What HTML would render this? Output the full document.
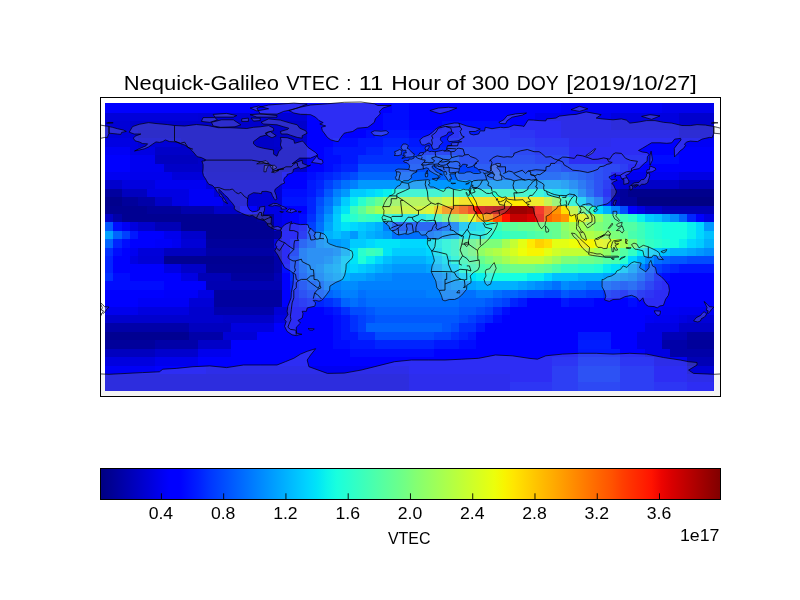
<!DOCTYPE html>
<html><head><meta charset="utf-8"><style>
html,body{margin:0;padding:0;background:#fff;}
svg{display:block;will-change:transform;}
text{font-family:"Liberation Sans",sans-serif;fill:#000;}

</style></head><body>
<svg width="800" height="600" viewBox="0 0 800 600">
<defs>
<clipPath id="mc"><rect x="100.5" y="97.5" width="620" height="299"/></clipPath>
<linearGradient id="jet" x1="0" x2="1" y1="0" y2="0"><stop offset="0.0000" stop-color="#000080"/><stop offset="0.0159" stop-color="#000092"/><stop offset="0.0317" stop-color="#0000a4"/><stop offset="0.0476" stop-color="#0000b6"/><stop offset="0.0635" stop-color="#0000c8"/><stop offset="0.0794" stop-color="#0000da"/><stop offset="0.0952" stop-color="#0000ed"/><stop offset="0.1111" stop-color="#0000ff"/><stop offset="0.1270" stop-color="#0000ff"/><stop offset="0.1429" stop-color="#0010ff"/><stop offset="0.1587" stop-color="#0020ff"/><stop offset="0.1746" stop-color="#0034ff"/><stop offset="0.1905" stop-color="#0044ff"/><stop offset="0.2063" stop-color="#0054ff"/><stop offset="0.2222" stop-color="#0064ff"/><stop offset="0.2381" stop-color="#0074ff"/><stop offset="0.2540" stop-color="#0084ff"/><stop offset="0.2698" stop-color="#0094ff"/><stop offset="0.2857" stop-color="#00a4ff"/><stop offset="0.3016" stop-color="#00b4ff"/><stop offset="0.3175" stop-color="#00c4ff"/><stop offset="0.3333" stop-color="#00d4ff"/><stop offset="0.3492" stop-color="#00e4f8"/><stop offset="0.3651" stop-color="#0cf4eb"/><stop offset="0.3810" stop-color="#19ffde"/><stop offset="0.3968" stop-color="#26ffd1"/><stop offset="0.4127" stop-color="#33ffc4"/><stop offset="0.4286" stop-color="#40ffb7"/><stop offset="0.4444" stop-color="#4dffaa"/><stop offset="0.4603" stop-color="#5aff9d"/><stop offset="0.4762" stop-color="#66ff90"/><stop offset="0.4921" stop-color="#73ff83"/><stop offset="0.5079" stop-color="#83ff73"/><stop offset="0.5238" stop-color="#90ff66"/><stop offset="0.5397" stop-color="#9dff5a"/><stop offset="0.5556" stop-color="#aaff4d"/><stop offset="0.5714" stop-color="#b7ff40"/><stop offset="0.5873" stop-color="#c4ff33"/><stop offset="0.6032" stop-color="#d1ff26"/><stop offset="0.6190" stop-color="#deff19"/><stop offset="0.6349" stop-color="#ebff0c"/><stop offset="0.6508" stop-color="#f8f500"/><stop offset="0.6667" stop-color="#ffe600"/><stop offset="0.6825" stop-color="#ffd700"/><stop offset="0.6984" stop-color="#ffc800"/><stop offset="0.7143" stop-color="#ffb900"/><stop offset="0.7302" stop-color="#ffab00"/><stop offset="0.7460" stop-color="#ff9c00"/><stop offset="0.7619" stop-color="#ff8d00"/><stop offset="0.7778" stop-color="#ff7e00"/><stop offset="0.7937" stop-color="#ff6f00"/><stop offset="0.8095" stop-color="#ff6000"/><stop offset="0.8254" stop-color="#ff5200"/><stop offset="0.8413" stop-color="#ff3f00"/><stop offset="0.8571" stop-color="#ff3000"/><stop offset="0.8730" stop-color="#ff2200"/><stop offset="0.8889" stop-color="#ff1300"/><stop offset="0.9048" stop-color="#ed0400"/><stop offset="0.9206" stop-color="#da0000"/><stop offset="0.9365" stop-color="#c80000"/><stop offset="0.9524" stop-color="#b60000"/><stop offset="0.9683" stop-color="#a40000"/><stop offset="0.9841" stop-color="#920000"/><stop offset="1.0000" stop-color="#800000"/></linearGradient>
</defs>
<g font-size="20.6"><text x="123.70" y="90" textLength="155.35" lengthAdjust="spacingAndGlyphs">Nequick-Galileo</text><text x="286.20" y="90" textLength="53.35" lengthAdjust="spacingAndGlyphs">VTEC</text><text x="346.20" y="90" textLength="5.10" lengthAdjust="spacingAndGlyphs">:</text><text x="358.70" y="90" textLength="24.60" lengthAdjust="spacingAndGlyphs">11</text><text x="391.20" y="90" textLength="49.60" lengthAdjust="spacingAndGlyphs">Hour</text><text x="446.20" y="90" textLength="19.60" lengthAdjust="spacingAndGlyphs">of</text><text x="471.70" y="90" textLength="37.60" lengthAdjust="spacingAndGlyphs">300</text><text x="516.70" y="90" textLength="42.10" lengthAdjust="spacingAndGlyphs">DOY</text><text x="566.20" y="90" textLength="130.60" lengthAdjust="spacingAndGlyphs">[2019/10/27]</text></g>
<g shape-rendering="crispEdges">
<path fill="#0000ff" d="M105 103h8v10h-8zM113 103h9v10h-9zM122 103h8v10h-8zM130 103h8v10h-8zM138 103h9v10h-9zM147 103h8v10h-8zM155 103h9v10h-9zM164 103h8v10h-8zM172 103h9v10h-9zM181 103h8v10h-8zM189 103h9v10h-9zM198 103h8v10h-8zM206 103h8v10h-8zM214 103h9v10h-9zM223 103h8v10h-8zM231 103h9v10h-9zM240 103h8v10h-8zM248 103h9v10h-9zM257 103h8v10h-8zM265 103h9v10h-9zM274 103h8v10h-8zM282 103h8v10h-8zM290 103h9v10h-9zM299 103h8v10h-8zM307 103h9v10h-9zM316 103h8v10h-8zM324 103h9v10h-9zM333 103h8v10h-8zM341 103h9v10h-9zM350 103h8v10h-8zM358 103h8v10h-8zM366 103h9v10h-9zM375 103h8v10h-8zM383 103h9v10h-9zM409 103h8v10h-8zM417 103h9v10h-9zM426 103h8v10h-8zM434 103h8v10h-8zM442 103h9v10h-9zM451 103h8v10h-8zM459 103h9v10h-9zM468 103h8v10h-8zM476 103h9v10h-9zM485 103h8v10h-8zM493 103h9v10h-9zM502 103h8v10h-8zM510 103h8v10h-8zM518 103h9v10h-9zM527 103h8v10h-8zM535 103h9v10h-9zM544 103h8v10h-8zM552 103h9v10h-9zM307 113h9v8h-9zM316 113h8v8h-8zM324 113h9v8h-9zM333 113h8v8h-8zM341 113h9v8h-9zM350 113h8v8h-8zM358 113h8v8h-8zM366 113h9v8h-9zM375 113h8v8h-8zM409 113h8v8h-8zM417 113h9v8h-9zM426 113h8v8h-8zM434 113h8v8h-8zM442 113h9v8h-9zM451 113h8v8h-8zM459 113h9v8h-9zM468 113h8v8h-8zM476 113h9v8h-9zM485 113h8v8h-8zM493 113h9v8h-9zM502 113h8v8h-8zM510 113h8v8h-8zM518 113h9v8h-9zM527 113h8v8h-8zM307 121h9v9h-9zM316 121h8v9h-8zM324 121h9v9h-9zM333 121h8v9h-8zM341 121h9v9h-9zM350 121h8v9h-8zM358 121h8v9h-8zM366 121h9v9h-9zM375 121h8v9h-8zM409 121h8v9h-8zM417 121h9v9h-9zM426 121h8v9h-8zM434 121h8v9h-8zM510 121h8v9h-8zM518 121h9v9h-9zM527 121h8v9h-8zM535 121h9v9h-9zM544 121h8v9h-8zM552 121h9v9h-9zM307 130h9v8h-9zM316 130h8v8h-8zM324 130h9v8h-9zM333 130h8v8h-8zM341 130h9v8h-9zM350 130h8v8h-8zM358 130h8v8h-8zM535 130h9v8h-9zM544 130h8v8h-8zM552 130h9v8h-9zM307 138h9v9h-9zM316 138h8v9h-8zM324 138h9v9h-9zM611 138h9v9h-9zM620 138h8v9h-8zM628 138h9v9h-9zM637 138h8v9h-8zM645 138h9v9h-9zM654 138h8v9h-8zM662 138h8v9h-8zM670 138h9v9h-9zM307 147h9v8h-9zM316 147h8v8h-8zM569 147h9v8h-9zM578 147h8v8h-8zM586 147h8v8h-8zM594 147h9v8h-9zM603 147h8v8h-8zM611 147h9v8h-9zM620 147h8v8h-8zM628 147h9v8h-9zM637 147h8v8h-8zM645 147h9v8h-9zM654 147h8v8h-8zM662 147h8v8h-8zM670 147h9v8h-9zM679 147h8v8h-8zM687 147h9v8h-9zM696 147h8v8h-8zM704 147h10v8h-10zM105 155h8v9h-8zM113 155h9v9h-9zM122 155h8v9h-8zM307 155h9v9h-9zM316 155h8v9h-8zM569 155h9v9h-9zM578 155h8v9h-8zM586 155h8v9h-8zM594 155h9v9h-9zM603 155h8v9h-8zM679 155h8v9h-8zM687 155h9v9h-9zM696 155h8v9h-8zM704 155h10v9h-10zM105 164h8v8h-8zM113 164h9v8h-9zM122 164h8v8h-8zM307 164h9v8h-9zM316 164h8v8h-8zM628 164h9v8h-9zM637 164h8v8h-8zM645 164h9v8h-9zM654 164h8v8h-8zM662 164h8v8h-8zM670 164h9v8h-9zM679 164h8v8h-8zM687 164h9v8h-9zM696 164h8v8h-8zM704 164h10v8h-10zM282 172h8v8h-8zM290 172h9v8h-9zM299 172h8v8h-8zM611 172h9v8h-9zM620 172h8v8h-8zM282 180h8v9h-8zM290 180h9v9h-9zM299 180h8v9h-8zM240 206h8v8h-8zM248 206h9v8h-9zM290 206h9v8h-9zM299 206h8v8h-8zM628 206h9v8h-9zM290 214h9v8h-9zM696 214h8v8h-8zM290 222h9v9h-9zM138 231h9v8h-9zM147 231h8v8h-8zM155 231h9v8h-9zM282 231h8v8h-8zM290 231h9v8h-9zM130 239h8v9h-8zM138 239h9v9h-9zM147 239h8v9h-8zM282 239h8v9h-8zM122 248h8v8h-8zM282 248h8v8h-8zM113 256h9v8h-9zM122 256h8v8h-8zM282 256h8v8h-8zM113 264h9v9h-9zM122 264h8v9h-8zM130 264h8v9h-8zM138 264h9v9h-9zM147 264h8v9h-8zM155 264h9v9h-9zM130 273h8v8h-8zM138 273h9v8h-9zM147 273h8v8h-8zM155 273h9v8h-9zM164 273h8v8h-8zM172 273h9v8h-9zM282 273h8v8h-8zM670 273h9v8h-9zM679 273h8v8h-8zM687 273h9v8h-9zM696 273h8v8h-8zM704 273h10v8h-10zM164 281h8v9h-8zM172 281h9v9h-9zM181 281h8v9h-8zM189 281h9v9h-9zM198 281h8v9h-8zM282 281h8v9h-8zM662 281h8v9h-8zM670 281h9v9h-9zM679 281h8v9h-8zM687 281h9v9h-9zM696 281h8v9h-8zM704 281h10v9h-10zM105 290h8v8h-8zM113 290h9v8h-9zM122 290h8v8h-8zM130 290h8v8h-8zM138 290h9v8h-9zM147 290h8v8h-8zM155 290h9v8h-9zM282 290h8v8h-8zM654 290h8v8h-8zM662 290h8v8h-8zM670 290h9v8h-9zM679 290h8v8h-8zM687 290h9v8h-9zM696 290h8v8h-8zM704 290h10v8h-10zM105 298h8v9h-8zM113 298h9v9h-9zM122 298h8v9h-8zM130 298h8v9h-8zM282 298h8v9h-8zM527 298h8v9h-8zM535 298h9v9h-9zM544 298h8v9h-8zM552 298h9v9h-9zM594 298h9v9h-9zM603 298h8v9h-8zM611 298h9v9h-9zM620 298h8v9h-8zM637 298h8v9h-8zM645 298h9v9h-9zM654 298h8v9h-8zM662 298h8v9h-8zM670 298h9v9h-9zM679 298h8v9h-8zM687 298h9v9h-9zM696 298h8v9h-8zM704 298h10v9h-10zM290 307h9v8h-9zM299 307h8v8h-8zM307 307h9v8h-9zM316 307h8v8h-8zM510 307h8v8h-8zM518 307h9v8h-9zM527 307h8v8h-8zM535 307h9v8h-9zM544 307h8v8h-8zM552 307h9v8h-9zM561 307h8v8h-8zM569 307h9v8h-9zM578 307h8v8h-8zM586 307h8v8h-8zM594 307h9v8h-9zM603 307h8v8h-8zM611 307h9v8h-9zM620 307h8v8h-8zM628 307h9v8h-9zM637 307h8v8h-8zM645 307h9v8h-9zM654 307h8v8h-8zM290 315h9v8h-9zM299 315h8v8h-8zM307 315h9v8h-9zM316 315h8v8h-8zM324 315h9v8h-9zM502 315h8v8h-8zM510 315h8v8h-8zM518 315h9v8h-9zM527 315h8v8h-8zM535 315h9v8h-9zM544 315h8v8h-8zM552 315h9v8h-9zM561 315h8v8h-8zM569 315h9v8h-9zM578 315h8v8h-8zM586 315h8v8h-8zM594 315h9v8h-9zM603 315h8v8h-8zM611 315h9v8h-9zM620 315h8v8h-8zM628 315h9v8h-9zM637 315h8v8h-8zM274 323h8v9h-8zM282 323h8v9h-8zM290 323h9v9h-9zM299 323h8v9h-8zM307 323h9v9h-9zM316 323h8v9h-8zM324 323h9v9h-9zM485 323h8v9h-8zM493 323h9v9h-9zM502 323h8v9h-8zM510 323h8v9h-8zM518 323h9v9h-9zM527 323h8v9h-8zM535 323h9v9h-9zM544 323h8v9h-8zM552 323h9v9h-9zM561 323h8v9h-8zM569 323h9v9h-9zM578 323h8v9h-8zM586 323h8v9h-8zM594 323h9v9h-9zM603 323h8v9h-8zM611 323h9v9h-9zM620 323h8v9h-8zM628 323h9v9h-9zM637 323h8v9h-8zM257 332h8v8h-8zM265 332h9v8h-9zM274 332h8v8h-8zM282 332h8v8h-8zM290 332h9v8h-9zM299 332h8v8h-8zM307 332h9v8h-9zM316 332h8v8h-8zM324 332h9v8h-9zM476 332h9v8h-9zM485 332h8v8h-8zM493 332h9v8h-9zM502 332h8v8h-8zM510 332h8v8h-8zM518 332h9v8h-9zM527 332h8v8h-8zM535 332h9v8h-9zM544 332h8v8h-8zM552 332h9v8h-9zM561 332h8v8h-8zM569 332h9v8h-9zM611 332h9v8h-9zM620 332h8v8h-8zM628 332h9v8h-9zM231 340h9v9h-9zM240 340h8v9h-8zM248 340h9v9h-9zM257 340h8v9h-8zM265 340h9v9h-9zM274 340h8v9h-8zM282 340h8v9h-8zM290 340h9v9h-9zM299 340h8v9h-8zM307 340h9v9h-9zM316 340h8v9h-8zM324 340h9v9h-9zM476 340h9v9h-9zM485 340h8v9h-8zM493 340h9v9h-9zM502 340h8v9h-8zM510 340h8v9h-8zM518 340h9v9h-9zM527 340h8v9h-8zM535 340h9v9h-9zM544 340h8v9h-8zM552 340h9v9h-9zM561 340h8v9h-8zM569 340h9v9h-9zM611 340h9v9h-9zM620 340h8v9h-8zM628 340h9v9h-9zM231 349h9v8h-9zM240 349h8v8h-8zM248 349h9v8h-9zM257 349h8v8h-8zM265 349h9v8h-9zM274 349h8v8h-8zM282 349h8v8h-8zM290 349h9v8h-9zM299 349h8v8h-8zM307 349h9v8h-9zM316 349h8v8h-8zM324 349h9v8h-9zM333 349h8v8h-8zM341 349h9v8h-9zM434 349h8v8h-8zM442 349h9v8h-9zM451 349h8v8h-8zM459 349h9v8h-9zM468 349h8v8h-8zM476 349h9v8h-9zM485 349h8v8h-8zM493 349h9v8h-9zM502 349h8v8h-8zM510 349h8v8h-8zM518 349h9v8h-9zM527 349h8v8h-8zM535 349h9v8h-9zM544 349h8v8h-8zM552 349h9v8h-9zM561 349h8v8h-8zM569 349h9v8h-9zM620 349h8v8h-8zM628 349h9v8h-9zM637 349h8v8h-8zM198 357h8v9h-8zM206 357h8v9h-8zM214 357h9v9h-9zM223 357h8v9h-8zM231 357h9v9h-9zM240 357h8v9h-8zM248 357h9v9h-9zM257 357h8v9h-8zM265 357h9v9h-9zM274 357h8v9h-8zM282 357h8v9h-8zM290 357h9v9h-9zM299 357h8v9h-8zM307 357h9v9h-9zM316 357h8v9h-8zM324 357h9v9h-9zM333 357h8v9h-8zM341 357h9v9h-9zM350 357h8v9h-8zM358 357h8v9h-8zM366 357h9v9h-9zM375 357h8v9h-8zM383 357h9v9h-9zM392 357h8v9h-8zM400 357h9v9h-9zM409 357h8v9h-8zM417 357h9v9h-9zM426 357h8v9h-8zM434 357h8v9h-8zM442 357h9v9h-9zM451 357h8v9h-8zM459 357h9v9h-9zM468 357h8v9h-8zM476 357h9v9h-9zM485 357h8v9h-8zM493 357h9v9h-9zM502 357h8v9h-8zM510 357h8v9h-8zM518 357h9v9h-9zM527 357h8v9h-8zM535 357h9v9h-9zM544 357h8v9h-8zM155 366h9v8h-9zM164 366h8v8h-8zM172 366h9v8h-9zM181 366h8v8h-8zM189 366h9v8h-9zM198 366h8v8h-8zM409 366h8v8h-8zM417 366h9v8h-9zM426 366h8v8h-8zM434 366h8v8h-8zM442 366h9v8h-9zM451 366h8v8h-8zM459 366h9v8h-9zM468 366h8v8h-8zM476 366h9v8h-9zM485 366h8v8h-8zM493 366h9v8h-9zM502 366h8v8h-8zM510 366h8v8h-8zM518 366h9v8h-9zM527 366h8v8h-8zM535 366h9v8h-9zM544 366h8v8h-8zM654 366h8v8h-8zM662 366h8v8h-8zM670 366h9v8h-9zM679 366h8v8h-8zM510 374h8v8h-8zM518 374h9v8h-9zM527 374h8v8h-8zM535 374h9v8h-9zM544 374h8v8h-8zM654 374h8v8h-8zM662 374h8v8h-8zM670 374h9v8h-9zM679 374h8v8h-8zM687 382h9v9h-9zM696 382h8v9h-8zM704 382h10v9h-10z"/>
<path fill="#000cff" d="M392 103h8v10h-8zM400 103h9v10h-9zM383 113h9v8h-9zM392 113h8v8h-8zM400 113h9v8h-9zM383 121h9v9h-9zM392 121h8v9h-8zM400 121h9v9h-9zM442 121h9v9h-9zM451 121h8v9h-8zM459 121h9v9h-9zM468 121h8v9h-8zM476 121h9v9h-9zM485 121h8v9h-8zM493 121h9v9h-9zM502 121h8v9h-8zM366 130h9v8h-9zM409 130h8v8h-8zM417 130h9v8h-9zM426 130h8v8h-8zM434 130h8v8h-8zM442 130h9v8h-9zM451 130h8v8h-8zM510 130h8v8h-8zM518 130h9v8h-9zM527 130h8v8h-8zM333 138h8v9h-8zM341 138h9v9h-9zM350 138h8v9h-8zM535 138h9v9h-9zM544 138h8v9h-8zM552 138h9v9h-9zM561 138h8v9h-8zM324 147h9v8h-9zM324 155h9v9h-9zM333 155h8v9h-8zM611 155h9v9h-9zM620 155h8v9h-8zM628 155h9v9h-9zM637 155h8v9h-8zM645 155h9v9h-9zM654 155h8v9h-8zM662 155h8v9h-8zM670 155h9v9h-9zM324 164h9v8h-9zM307 172h9v8h-9zM282 189h8v8h-8zM290 189h9v8h-9zM299 189h8v8h-8zM603 189h8v8h-8zM299 214h8v8h-8zM113 222h9v9h-9zM299 222h8v9h-8zM122 239h8v9h-8zM113 248h9v8h-9zM282 264h8v9h-8zM113 273h9v8h-9zM122 273h8v8h-8zM662 273h8v8h-8zM105 281h8v9h-8zM113 281h9v9h-9zM122 281h8v9h-8zM130 281h8v9h-8zM138 281h9v9h-9zM147 281h8v9h-8zM155 281h9v9h-9zM654 281h8v9h-8zM645 290h9v8h-9zM290 298h9v9h-9zM569 298h9v9h-9zM578 298h8v9h-8zM586 298h8v9h-8zM628 298h9v9h-9zM324 307h9v8h-9zM502 307h8v8h-8zM333 315h8v8h-8zM493 315h9v8h-9zM333 323h8v9h-8zM333 332h8v8h-8zM333 340h8v9h-8zM341 340h9v9h-9zM459 340h9v9h-9zM468 340h8v9h-8zM350 349h8v8h-8zM358 349h8v8h-8zM366 349h9v8h-9zM375 349h8v8h-8zM383 349h9v8h-9zM392 349h8v8h-8zM400 349h9v8h-9zM409 349h8v8h-8zM417 349h9v8h-9zM426 349h8v8h-8zM552 357h9v9h-9zM561 357h8v9h-8zM569 357h9v9h-9zM620 357h8v9h-8zM628 357h9v9h-9zM637 357h8v9h-8zM645 357h9v9h-9zM510 382h8v9h-8zM518 382h9v9h-9zM527 382h8v9h-8zM535 382h9v9h-9zM544 382h8v9h-8zM654 382h8v9h-8zM662 382h8v9h-8zM670 382h9v9h-9zM679 382h8v9h-8z"/>
<path fill="#0000f6" d="M561 103h8v10h-8zM569 103h9v10h-9zM578 103h8v10h-8zM586 103h8v10h-8zM594 103h9v10h-9zM603 103h8v10h-8zM611 103h9v10h-9zM620 103h8v10h-8zM628 103h9v10h-9zM637 103h8v10h-8zM645 103h9v10h-9zM654 103h8v10h-8zM569 138h9v9h-9zM578 138h8v9h-8zM586 138h8v9h-8zM594 138h9v9h-9zM603 138h8v9h-8zM679 138h8v9h-8zM687 138h9v9h-9zM696 138h8v9h-8zM704 138h10v9h-10zM105 147h8v8h-8zM113 147h9v8h-9zM122 147h8v8h-8zM189 189h9v8h-9zM198 189h8v8h-8zM206 189h8v8h-8zM189 197h9v9h-9zM198 197h8v9h-8zM206 197h8v9h-8zM214 197h9v9h-9zM122 222h8v9h-8zM138 298h9v9h-9zM147 298h8v9h-8zM155 298h9v9h-9zM164 298h8v9h-8zM172 298h9v9h-9zM181 298h8v9h-8zM662 307h8v8h-8zM670 307h9v8h-9zM645 315h9v8h-9zM105 366h8v8h-8zM113 366h9v8h-9zM122 366h8v8h-8zM130 366h8v8h-8zM138 366h9v8h-9zM147 366h8v8h-8zM409 374h8v8h-8zM417 374h9v8h-9zM426 374h8v8h-8zM434 374h8v8h-8zM442 374h9v8h-9zM451 374h8v8h-8zM459 374h9v8h-9zM468 374h8v8h-8zM476 374h9v8h-9zM485 374h8v8h-8zM493 374h9v8h-9zM502 374h8v8h-8zM409 382h8v9h-8zM417 382h9v9h-9zM426 382h8v9h-8zM434 382h8v9h-8zM442 382h9v9h-9zM451 382h8v9h-8zM459 382h9v9h-9zM468 382h8v9h-8zM476 382h9v9h-9zM485 382h8v9h-8zM493 382h9v9h-9zM502 382h8v9h-8z"/>
<path fill="#0000ed" d="M662 103h8v10h-8zM670 103h9v10h-9zM679 103h8v10h-8zM687 103h9v10h-9zM696 103h8v10h-8zM704 103h10v10h-10zM535 113h9v8h-9zM544 113h8v8h-8zM552 113h9v8h-9zM561 113h8v8h-8zM569 113h9v8h-9zM578 113h8v8h-8zM586 113h8v8h-8zM594 113h9v8h-9zM603 113h8v8h-8zM561 121h8v9h-8zM569 121h9v9h-9zM578 121h8v9h-8zM586 121h8v9h-8zM594 121h9v9h-9zM603 121h8v9h-8zM561 130h8v8h-8zM569 130h9v8h-9zM578 130h8v8h-8zM586 130h8v8h-8zM594 130h9v8h-9zM603 130h8v8h-8zM611 130h9v8h-9zM620 130h8v8h-8zM628 130h9v8h-9zM637 130h8v8h-8zM645 130h9v8h-9zM654 130h8v8h-8zM662 130h8v8h-8zM670 130h9v8h-9zM130 172h8v8h-8zM138 172h9v8h-9zM147 172h8v8h-8zM155 172h9v8h-9zM164 172h8v8h-8zM164 231h8v8h-8zM172 231h9v8h-9zM105 307h8v8h-8zM113 307h9v8h-9zM122 307h8v8h-8zM130 307h8v8h-8zM670 315h9v8h-9zM198 349h8v8h-8zM206 349h8v8h-8zM214 349h9v8h-9zM223 349h8v8h-8zM155 357h9v9h-9zM164 357h8v9h-8zM172 357h9v9h-9zM181 357h8v9h-8zM189 357h9v9h-9z"/>
<path fill="#0000da" d="M105 113h8v8h-8zM113 113h9v8h-9zM122 113h8v8h-8zM130 113h8v8h-8zM138 113h9v8h-9zM147 113h8v8h-8zM155 113h9v8h-9zM164 113h8v8h-8zM172 113h9v8h-9zM181 113h8v8h-8zM189 113h9v8h-9zM105 130h8v8h-8zM113 130h9v8h-9zM122 130h8v8h-8zM130 130h8v8h-8zM172 172h9v8h-9zM181 172h8v8h-8zM189 172h9v8h-9zM198 172h8v8h-8zM138 248h9v8h-9zM147 248h8v8h-8zM155 248h9v8h-9zM687 315h9v8h-9z"/>
<path fill="#0000d6" d="M198 113h8v8h-8zM206 113h8v8h-8zM214 113h9v8h-9zM223 113h8v8h-8zM231 113h9v8h-9zM240 113h8v8h-8zM248 113h9v8h-9zM257 113h8v8h-8zM265 113h9v8h-9zM274 113h8v8h-8zM282 113h8v8h-8zM290 113h9v8h-9zM299 113h8v8h-8zM105 121h8v9h-8zM113 121h9v9h-9zM122 121h8v9h-8zM679 130h8v8h-8zM687 130h9v8h-9zM696 130h8v8h-8zM704 130h10v8h-10zM138 138h9v9h-9zM147 138h8v9h-8zM155 138h9v9h-9zM164 138h8v9h-8zM172 138h9v9h-9zM206 180h8v9h-8zM214 180h9v9h-9zM223 180h8v9h-8zM231 180h9v9h-9zM240 180h8v9h-8zM248 180h9v9h-9zM257 180h8v9h-8zM265 180h9v9h-9zM274 180h8v9h-8zM620 180h8v9h-8zM214 189h9v8h-9zM223 189h8v8h-8zM231 189h9v8h-9zM240 189h8v8h-8zM248 189h9v8h-9zM257 189h8v8h-8zM265 189h9v8h-9zM274 189h8v8h-8zM223 197h8v9h-8zM231 197h9v9h-9zM240 197h8v9h-8zM248 197h9v9h-9zM257 197h8v9h-8zM265 197h9v9h-9zM274 197h8v9h-8zM257 206h8v8h-8zM181 239h8v9h-8zM189 239h9v9h-9zM198 239h8v9h-8zM138 256h9v8h-9zM147 256h8v8h-8zM155 256h9v8h-9zM189 298h9v9h-9zM198 298h8v9h-8zM206 298h8v9h-8zM274 307h8v8h-8zM282 307h8v8h-8zM696 315h8v8h-8zM704 315h10v8h-10zM223 332h8v8h-8zM231 332h9v8h-9zM240 332h8v8h-8zM248 332h9v8h-9zM687 366h9v8h-9zM696 366h8v8h-8zM704 366h10v8h-10z"/>
<path fill="#0000df" d="M611 113h9v8h-9zM620 113h8v8h-8zM628 113h9v8h-9zM637 113h8v8h-8zM645 113h9v8h-9zM654 113h8v8h-8zM662 113h8v8h-8zM670 113h9v8h-9zM611 121h9v9h-9zM620 121h8v9h-8zM628 121h9v9h-9zM637 121h8v9h-8zM645 121h9v9h-9zM654 121h8v9h-8zM662 121h8v9h-8zM670 121h9v9h-9zM122 180h8v9h-8zM130 180h8v9h-8zM138 180h9v9h-9zM147 180h8v9h-8zM130 222h8v9h-8zM138 307h9v8h-9zM147 307h8v8h-8zM155 307h9v8h-9zM164 307h8v8h-8zM172 307h9v8h-9zM181 307h8v8h-8zM231 323h9v9h-9zM240 323h8v9h-8zM248 323h9v9h-9zM257 323h8v9h-8zM265 323h9v9h-9zM105 357h8v9h-8zM113 357h9v9h-9zM122 357h8v9h-8zM130 357h8v9h-8zM138 357h9v9h-9zM147 357h8v9h-8z"/>
<path fill="#0000cd" d="M679 113h8v8h-8zM687 113h9v8h-9zM696 113h8v8h-8zM704 113h10v8h-10zM130 121h8v9h-8zM138 121h9v9h-9zM147 121h8v9h-8zM155 121h9v9h-9zM164 121h8v9h-8zM172 121h9v9h-9zM181 121h8v9h-8zM189 121h9v9h-9zM198 121h8v9h-8zM206 121h8v9h-8zM214 121h9v9h-9zM223 121h8v9h-8zM231 121h9v9h-9zM240 121h8v9h-8zM248 121h9v9h-9zM257 121h8v9h-8zM265 121h9v9h-9zM274 121h8v9h-8zM282 121h8v9h-8zM290 121h9v9h-9zM299 121h8v9h-8zM679 121h8v9h-8zM687 121h9v9h-9zM696 121h8v9h-8zM704 121h10v9h-10zM274 138h8v9h-8zM282 138h8v9h-8zM290 138h9v9h-9zM299 138h8v9h-8zM206 172h8v8h-8zM214 172h9v8h-9zM223 172h8v8h-8zM231 172h9v8h-9zM240 172h8v8h-8zM248 172h9v8h-9zM257 172h8v8h-8zM265 172h9v8h-9zM274 172h8v8h-8zM105 180h8v9h-8zM113 180h9v9h-9zM138 222h9v9h-9zM147 222h8v9h-8zM181 231h8v8h-8zM189 231h9v8h-9zM198 231h8v8h-8zM189 307h9v8h-9zM198 307h8v8h-8zM206 307h8v8h-8zM105 315h8v8h-8zM113 315h9v8h-9zM122 315h8v8h-8zM130 315h8v8h-8zM138 315h9v8h-9zM147 315h8v8h-8zM155 315h9v8h-9zM164 315h8v8h-8zM172 315h9v8h-9zM181 315h8v8h-8zM189 315h9v8h-9zM198 315h8v8h-8zM206 315h8v8h-8zM214 315h9v8h-9zM155 349h9v8h-9zM164 349h8v8h-8zM172 349h9v8h-9zM181 349h8v8h-8zM189 349h9v8h-9z"/>
<path fill="#0000c8" d="M138 130h9v8h-9zM147 130h8v8h-8zM155 130h9v8h-9zM164 130h8v8h-8zM172 130h9v8h-9zM181 130h8v8h-8zM189 130h9v8h-9zM198 130h8v8h-8zM206 130h8v8h-8zM214 130h9v8h-9zM223 130h8v8h-8zM231 130h9v8h-9zM240 130h8v8h-8zM248 130h9v8h-9zM257 130h8v8h-8zM265 130h9v8h-9zM274 130h8v8h-8zM282 130h8v8h-8zM290 130h9v8h-9zM299 130h8v8h-8zM181 138h8v9h-8zM189 138h9v9h-9zM198 138h8v9h-8zM206 138h8v9h-8zM214 138h9v9h-9zM223 138h8v9h-8zM231 138h9v9h-9zM240 138h8v9h-8zM248 138h9v9h-9zM257 138h8v9h-8zM265 138h9v9h-9zM155 147h9v8h-9zM164 147h8v8h-8zM172 147h9v8h-9zM181 147h8v8h-8zM189 147h9v8h-9zM198 147h8v8h-8zM206 147h8v8h-8zM214 147h9v8h-9zM223 147h8v8h-8zM231 147h9v8h-9zM240 147h8v8h-8zM248 147h9v8h-9zM257 147h8v8h-8zM265 147h9v8h-9zM274 147h8v8h-8zM282 147h8v8h-8zM290 147h9v8h-9zM299 147h8v8h-8zM198 155h8v9h-8zM206 155h8v9h-8zM214 155h9v9h-9zM223 155h8v9h-8zM231 155h9v9h-9zM240 155h8v9h-8zM248 155h9v9h-9zM257 155h8v9h-8zM265 155h9v9h-9zM274 155h8v9h-8zM282 155h8v9h-8zM290 155h9v9h-9zM299 155h8v9h-8zM164 164h8v8h-8zM172 164h9v8h-9zM181 164h8v8h-8zM189 164h9v8h-9zM198 164h8v8h-8zM206 164h8v8h-8zM214 164h9v8h-9zM223 164h8v8h-8zM231 164h9v8h-9zM240 164h8v8h-8zM248 164h9v8h-9zM257 164h8v8h-8zM265 164h9v8h-9zM274 164h8v8h-8zM282 164h8v8h-8zM290 164h9v8h-9zM299 164h8v8h-8zM628 180h9v9h-9zM637 180h8v9h-8zM645 180h9v9h-9zM654 180h8v9h-8zM662 180h8v9h-8zM670 180h9v9h-9zM155 197h9v9h-9zM164 197h8v9h-8zM214 206h9v8h-9zM223 206h8v8h-8zM231 206h9v8h-9zM645 206h9v8h-9zM654 206h8v8h-8zM105 214h8v8h-8zM181 264h8v9h-8zM189 264h9v9h-9zM198 264h8v9h-8zM223 315h8v8h-8zM231 315h9v8h-9zM240 315h8v8h-8zM248 315h9v8h-9zM257 315h8v8h-8zM265 315h9v8h-9zM679 323h8v9h-8zM687 323h9v9h-9zM696 323h8v9h-8zM704 323h10v9h-10zM198 340h8v9h-8zM206 340h8v9h-8zM214 340h9v9h-9zM223 340h8v9h-8z"/>
<path fill="#0018ff" d="M375 130h8v8h-8zM383 130h9v8h-9zM392 130h8v8h-8zM400 130h9v8h-9zM459 130h9v8h-9zM468 130h8v8h-8zM476 130h9v8h-9zM485 130h8v8h-8zM493 130h9v8h-9zM502 130h8v8h-8zM358 138h8v9h-8zM366 138h9v9h-9zM375 138h8v9h-8zM409 138h8v9h-8zM417 138h9v9h-9zM426 138h8v9h-8zM434 138h8v9h-8zM442 138h9v9h-9zM451 138h8v9h-8zM459 138h9v9h-9zM468 138h8v9h-8zM476 138h9v9h-9zM485 138h8v9h-8zM493 138h9v9h-9zM502 138h8v9h-8zM510 138h8v9h-8zM518 138h9v9h-9zM527 138h8v9h-8zM333 147h8v8h-8zM341 147h9v8h-9zM350 147h8v8h-8zM358 147h8v8h-8zM535 147h9v8h-9zM544 147h8v8h-8zM552 147h9v8h-9zM561 147h8v8h-8zM341 155h9v9h-9zM350 155h8v9h-8zM333 164h8v8h-8zM620 164h8v8h-8zM316 172h8v8h-8zM307 180h9v9h-9zM603 180h8v9h-8zM307 189h9v8h-9zM130 231h8v8h-8zM299 231h8v8h-8zM290 239h9v9h-9zM679 264h8v9h-8zM687 264h9v9h-9zM696 264h8v9h-8zM704 264h10v9h-10zM654 273h8v8h-8zM290 290h9v8h-9zM620 290h8v8h-8zM637 290h8v8h-8zM299 298h8v9h-8zM518 298h9v9h-9zM561 298h8v9h-8zM333 307h8v8h-8zM341 315h9v8h-9zM341 323h9v9h-9zM476 323h9v9h-9zM341 332h9v8h-9zM350 332h8v8h-8zM468 332h8v8h-8zM578 332h8v8h-8zM586 332h8v8h-8zM594 332h9v8h-9zM603 332h8v8h-8zM350 340h8v9h-8zM358 340h8v9h-8zM366 340h9v9h-9zM434 340h8v9h-8zM442 340h9v9h-9zM451 340h8v9h-8zM578 349h8v8h-8zM586 349h8v8h-8zM594 349h9v8h-9zM603 349h8v8h-8zM611 349h9v8h-9zM552 366h9v8h-9zM561 366h8v8h-8zM569 366h9v8h-9zM620 366h8v8h-8zM628 366h9v8h-9zM637 366h8v8h-8zM645 366h9v8h-9zM552 374h9v8h-9zM561 374h8v8h-8zM569 374h9v8h-9zM620 374h8v8h-8zM628 374h9v8h-9zM637 374h8v8h-8zM645 374h9v8h-9zM552 382h9v9h-9zM561 382h8v9h-8zM569 382h9v9h-9zM620 382h8v9h-8zM628 382h9v9h-9zM637 382h8v9h-8zM645 382h9v9h-9z"/>
<path fill="#0000e3" d="M105 138h8v9h-8zM113 138h9v9h-9zM122 138h8v9h-8zM130 138h8v9h-8zM130 147h8v8h-8zM138 147h9v8h-9zM147 147h8v8h-8zM679 172h8v8h-8zM687 172h9v8h-9zM696 172h8v8h-8zM704 172h10v8h-10zM611 180h9v9h-9zM147 189h8v8h-8zM155 189h9v8h-9zM164 189h8v8h-8zM172 189h9v8h-9zM181 189h8v8h-8zM172 197h9v9h-9zM181 197h8v9h-8zM265 206h9v8h-9zM274 206h8v8h-8zM637 206h8v8h-8zM274 214h8v8h-8zM704 214h10v8h-10zM274 222h8v9h-8zM274 239h8v9h-8zM130 256h8v8h-8zM164 264h8v9h-8zM172 264h9v9h-9zM181 273h8v8h-8zM189 273h9v8h-9zM198 290h8v8h-8zM206 290h8v8h-8zM274 315h8v8h-8zM282 315h8v8h-8zM679 315h8v8h-8zM645 323h9v9h-9zM654 323h8v9h-8zM662 323h8v9h-8zM670 323h9v9h-9zM637 332h8v8h-8zM645 332h9v8h-9zM654 332h8v8h-8zM637 340h8v9h-8zM645 340h9v9h-9zM654 340h8v9h-8zM645 349h9v8h-9zM654 349h8v8h-8zM662 349h8v8h-8zM105 374h8v8h-8zM113 374h9v8h-9zM122 374h8v8h-8zM130 374h8v8h-8zM138 374h9v8h-9zM147 374h8v8h-8zM155 374h9v8h-9zM164 374h8v8h-8zM172 374h9v8h-9zM181 374h8v8h-8zM189 374h9v8h-9zM198 374h8v8h-8zM206 374h8v8h-8zM214 374h9v8h-9zM223 374h8v8h-8zM231 374h9v8h-9zM240 374h8v8h-8zM248 374h9v8h-9zM257 374h8v8h-8zM265 374h9v8h-9zM274 374h8v8h-8zM282 374h8v8h-8zM290 374h9v8h-9zM299 374h8v8h-8zM307 374h9v8h-9zM316 374h8v8h-8zM324 374h9v8h-9zM333 374h8v8h-8zM341 374h9v8h-9zM350 374h8v8h-8zM358 374h8v8h-8zM366 374h9v8h-9zM375 374h8v8h-8zM383 374h9v8h-9zM392 374h8v8h-8zM400 374h9v8h-9zM105 382h8v9h-8zM113 382h9v9h-9zM122 382h8v9h-8zM130 382h8v9h-8zM138 382h9v9h-9zM147 382h8v9h-8zM155 382h9v9h-9zM164 382h8v9h-8zM172 382h9v9h-9zM181 382h8v9h-8zM189 382h9v9h-9zM198 382h8v9h-8zM206 382h8v9h-8zM214 382h9v9h-9zM223 382h8v9h-8zM231 382h9v9h-9zM240 382h8v9h-8zM248 382h9v9h-9zM257 382h8v9h-8zM265 382h9v9h-9zM274 382h8v9h-8zM282 382h8v9h-8zM290 382h9v9h-9zM299 382h8v9h-8zM307 382h9v9h-9zM316 382h8v9h-8zM324 382h9v9h-9zM333 382h8v9h-8zM341 382h9v9h-9zM350 382h8v9h-8zM358 382h8v9h-8zM366 382h9v9h-9zM375 382h8v9h-8zM383 382h9v9h-9zM392 382h8v9h-8zM400 382h9v9h-9z"/>
<path fill="#0024ff" d="M383 138h9v9h-9zM392 138h8v9h-8zM400 138h9v9h-9zM366 147h9v8h-9zM375 147h8v8h-8zM409 147h8v8h-8zM417 147h9v8h-9zM426 147h8v8h-8zM434 147h8v8h-8zM442 147h9v8h-9zM510 147h8v8h-8zM518 147h9v8h-9zM527 147h8v8h-8zM535 155h9v9h-9zM544 155h8v9h-8zM552 155h9v9h-9zM561 155h8v9h-8zM341 164h9v8h-9zM350 164h8v8h-8zM603 164h8v8h-8zM611 164h9v8h-9zM324 172h9v8h-9zM603 172h8v8h-8zM316 180h8v9h-8zM307 197h9v9h-9zM603 197h8v9h-8zM307 206h9v8h-9zM687 214h9v8h-9zM113 239h9v9h-9zM105 256h8v8h-8zM105 264h8v9h-8zM670 264h9v9h-9zM290 281h9v9h-9zM645 281h9v9h-9zM611 290h9v8h-9zM307 298h9v9h-9zM316 298h8v9h-8zM510 298h8v9h-8zM493 307h9v8h-9zM485 315h8v8h-8zM459 332h9v8h-9zM375 340h8v9h-8zM383 340h9v9h-9zM392 340h8v9h-8zM400 340h9v9h-9zM409 340h8v9h-8zM417 340h9v9h-9zM426 340h8v9h-8zM578 357h8v9h-8zM586 357h8v9h-8zM594 357h9v9h-9zM603 357h8v9h-8zM611 357h9v9h-9zM578 382h8v9h-8zM586 382h8v9h-8zM594 382h9v9h-9zM603 382h8v9h-8zM611 382h9v9h-9z"/>
<path fill="#0030ff" d="M383 147h9v8h-9zM392 147h8v8h-8zM400 147h9v8h-9zM451 147h8v8h-8zM459 147h9v8h-9zM468 147h8v8h-8zM476 147h9v8h-9zM485 147h8v8h-8zM493 147h9v8h-9zM502 147h8v8h-8zM358 155h8v9h-8zM366 155h9v9h-9zM375 155h8v9h-8zM383 155h9v9h-9zM392 155h8v9h-8zM400 155h9v9h-9zM459 155h9v9h-9zM468 155h8v9h-8zM476 155h9v9h-9zM485 155h8v9h-8zM493 155h9v9h-9zM502 155h8v9h-8zM510 155h8v9h-8zM518 155h9v9h-9zM527 155h8v9h-8zM561 164h8v8h-8zM569 164h9v8h-9zM578 164h8v8h-8zM586 164h8v8h-8zM594 164h9v8h-9zM333 172h8v8h-8zM594 172h9v8h-9zM594 180h9v9h-9zM316 189h8v8h-8zM594 189h9v8h-9zM307 214h9v8h-9zM105 248h8v8h-8zM290 248h9v8h-9zM662 264h8v9h-8zM105 273h8v8h-8zM290 273h9v8h-9zM299 290h8v8h-8zM603 290h8v8h-8zM628 290h9v8h-9zM324 298h9v9h-9zM341 307h9v8h-9zM350 315h8v8h-8zM476 315h9v8h-9zM350 323h8v9h-8zM459 323h9v9h-9zM468 323h8v9h-8zM358 332h8v8h-8zM366 332h9v8h-9zM451 332h8v8h-8zM578 366h8v8h-8zM586 366h8v8h-8zM594 366h9v8h-9zM603 366h8v8h-8zM611 366h9v8h-9zM578 374h8v8h-8zM586 374h8v8h-8zM594 374h9v8h-9zM603 374h8v8h-8zM611 374h9v8h-9z"/>
<path fill="#0000f1" d="M130 155h8v9h-8zM138 155h9v9h-9zM147 155h8v9h-8zM130 164h8v8h-8zM138 164h9v8h-9zM147 164h8v8h-8zM155 164h9v8h-9zM105 172h8v8h-8zM113 172h9v8h-9zM122 172h8v8h-8zM628 172h9v8h-9zM637 172h8v8h-8zM645 172h9v8h-9zM654 172h8v8h-8zM662 172h8v8h-8zM670 172h9v8h-9zM155 180h9v9h-9zM164 180h8v9h-8zM172 180h9v9h-9zM181 180h8v9h-8zM189 180h9v9h-9zM198 180h8v9h-8zM282 206h8v8h-8zM282 214h8v8h-8zM282 222h8v9h-8zM172 239h9v9h-9zM130 248h8v8h-8zM679 307h8v8h-8zM687 307h9v8h-9zM696 307h8v8h-8zM704 307h10v8h-10zM654 315h8v8h-8zM662 315h8v8h-8zM654 357h8v9h-8zM662 357h8v9h-8zM670 357h9v9h-9zM679 357h8v9h-8zM206 366h8v8h-8zM214 366h9v8h-9zM223 366h8v8h-8zM231 366h9v8h-9zM240 366h8v8h-8zM248 366h9v8h-9zM257 366h8v8h-8zM265 366h9v8h-9zM274 366h8v8h-8zM282 366h8v8h-8zM290 366h9v8h-9zM299 366h8v8h-8zM307 366h9v8h-9zM316 366h8v8h-8zM324 366h9v8h-9zM333 366h8v8h-8zM341 366h9v8h-9zM350 366h8v8h-8zM358 366h8v8h-8zM366 366h9v8h-9zM375 366h8v8h-8zM383 366h9v8h-9zM392 366h8v8h-8zM400 366h9v8h-9zM687 374h9v8h-9zM696 374h8v8h-8zM704 374h10v8h-10z"/>
<path fill="#0000bf" d="M155 155h9v9h-9zM164 155h8v9h-8zM172 155h9v9h-9zM181 155h8v9h-8zM189 155h9v9h-9zM122 189h8v8h-8zM130 189h8v8h-8zM138 189h9v8h-9zM164 248h8v8h-8zM172 248h9v8h-9zM181 248h8v8h-8zM189 248h9v8h-9zM198 248h8v8h-8zM189 323h9v9h-9zM198 323h8v9h-8zM206 323h8v9h-8zM214 323h9v9h-9zM223 323h8v9h-8zM105 349h8v8h-8zM113 349h9v8h-9zM122 349h8v8h-8zM130 349h8v8h-8zM138 349h9v8h-9zM147 349h8v8h-8z"/>
<path fill="#0040ff" d="M409 155h8v9h-8zM417 155h9v9h-9zM459 164h9v8h-9zM468 164h8v8h-8zM476 164h9v8h-9zM485 164h8v8h-8zM493 164h9v8h-9zM502 164h8v8h-8zM510 164h8v8h-8zM518 164h9v8h-9zM527 164h8v8h-8zM535 164h9v8h-9zM544 164h8v8h-8zM552 164h9v8h-9zM341 172h9v8h-9zM586 172h8v8h-8zM324 180h9v9h-9zM307 222h9v9h-9zM122 231h8v8h-8zM290 256h9v8h-9zM290 264h9v9h-9zM654 264h8v9h-8zM645 273h9v8h-9zM299 281h8v9h-8zM637 281h8v9h-8zM307 290h9v8h-9zM544 290h8v8h-8zM552 290h9v8h-9zM586 290h8v8h-8zM594 290h9v8h-9zM333 298h8v9h-8zM502 298h8v9h-8zM485 307h8v8h-8zM358 315h8v8h-8zM468 315h8v8h-8zM358 323h8v9h-8zM434 332h8v8h-8zM442 332h9v8h-9z"/>
<path fill="#004cff" d="M426 155h8v9h-8zM434 155h8v9h-8zM442 155h9v9h-9zM451 155h8v9h-8zM358 164h8v8h-8zM366 164h9v8h-9zM375 164h8v8h-8zM383 164h9v8h-9zM392 164h8v8h-8zM400 164h9v8h-9zM409 164h8v8h-8zM417 164h9v8h-9zM426 164h8v8h-8zM434 164h8v8h-8zM442 164h9v8h-9zM451 164h8v8h-8zM350 172h8v8h-8zM578 172h8v8h-8zM586 180h8v9h-8zM316 197h8v9h-8zM620 206h8v8h-8zM392 222h8v9h-8zM400 222h9v9h-9zM409 222h8v9h-8zM417 222h9v9h-9zM426 222h8v9h-8zM434 222h8v9h-8zM307 231h9v8h-9zM299 239h8v9h-8zM687 256h9v8h-9zM696 256h8v8h-8zM704 256h10v8h-10zM620 281h8v9h-8zM527 290h8v8h-8zM535 290h9v8h-9zM569 290h9v8h-9zM578 290h8v8h-8zM493 298h9v9h-9zM350 307h8v8h-8zM358 307h8v8h-8zM476 307h9v8h-9zM366 315h9v8h-9zM459 315h9v8h-9zM451 323h8v9h-8zM375 332h8v8h-8zM383 332h9v8h-9zM392 332h8v8h-8zM400 332h9v8h-9zM409 332h8v8h-8zM417 332h9v8h-9zM426 332h8v8h-8z"/>
<path fill="#0064ff" d="M358 172h8v8h-8zM366 172h9v8h-9zM375 172h8v8h-8zM383 172h9v8h-9zM392 172h8v8h-8zM400 172h9v8h-9zM409 172h8v8h-8zM417 172h9v8h-9zM426 172h8v8h-8zM434 172h8v8h-8zM442 172h9v8h-9zM451 172h8v8h-8zM561 172h8v8h-8zM578 180h8v9h-8zM316 214h8v8h-8zM679 214h8v8h-8zM442 222h9v9h-9zM113 231h9v8h-9zM105 239h8v9h-8zM307 239h9v9h-9zM662 256h8v8h-8zM299 264h8v9h-8zM637 273h8v8h-8zM316 281h8v9h-8zM603 281h8v9h-8zM324 290h9v8h-9zM502 290h8v8h-8zM510 290h8v8h-8zM341 298h9v9h-9zM358 298h8v9h-8zM459 298h9v9h-9zM468 298h8v9h-8zM476 298h9v9h-9zM375 307h8v8h-8zM383 307h9v8h-9zM392 307h8v8h-8zM400 307h9v8h-9zM409 307h8v8h-8zM417 307h9v8h-9zM426 307h8v8h-8zM434 307h8v8h-8zM442 307h9v8h-9zM451 307h8v8h-8zM366 323h9v9h-9zM375 323h8v9h-8zM383 323h9v9h-9zM392 323h8v9h-8zM400 323h9v9h-9zM409 323h8v9h-8zM417 323h9v9h-9zM426 323h8v9h-8zM434 323h8v9h-8z"/>
<path fill="#0058ff" d="M459 172h9v8h-9zM468 172h8v8h-8zM476 172h9v8h-9zM485 172h8v8h-8zM493 172h9v8h-9zM502 172h8v8h-8zM510 172h8v8h-8zM518 172h9v8h-9zM527 172h8v8h-8zM535 172h9v8h-9zM544 172h8v8h-8zM552 172h9v8h-9zM569 172h9v8h-9zM333 180h8v9h-8zM324 189h9v8h-9zM586 189h8v8h-8zM316 206h8v8h-8zM105 222h8v9h-8zM670 256h9v8h-9zM679 256h8v8h-8zM645 264h9v9h-9zM299 273h8v8h-8zM307 281h9v9h-9zM611 281h9v9h-9zM628 281h9v9h-9zM316 290h8v8h-8zM518 290h9v8h-9zM561 290h8v8h-8zM485 298h8v9h-8zM366 307h9v8h-9zM459 307h9v8h-9zM468 307h8v8h-8zM375 315h8v8h-8zM383 315h9v8h-9zM392 315h8v8h-8zM400 315h9v8h-9zM409 315h8v8h-8zM417 315h9v8h-9zM426 315h8v8h-8zM434 315h8v8h-8zM442 315h9v8h-9zM451 315h8v8h-8zM442 323h9v9h-9z"/>
<path fill="#0070ff" d="M341 180h9v9h-9zM324 197h9v9h-9zM594 197h9v9h-9zM316 222h8v9h-8zM392 231h8v8h-8zM400 231h9v8h-9zM409 231h8v8h-8zM417 231h9v8h-9zM426 231h8v8h-8zM299 248h8v8h-8zM299 256h8v8h-8zM654 256h8v8h-8zM307 273h9v8h-9zM552 281h9v9h-9zM586 281h8v9h-8zM594 281h9v9h-9zM333 290h8v8h-8zM358 290h8v8h-8zM459 290h9v8h-9zM468 290h8v8h-8zM493 290h9v8h-9zM350 298h8v9h-8zM366 298h9v9h-9zM375 298h8v9h-8zM383 298h9v9h-9zM392 298h8v9h-8zM400 298h9v9h-9zM409 298h8v9h-8zM417 298h9v9h-9zM426 298h8v9h-8zM434 298h8v9h-8zM442 298h9v9h-9zM451 298h8v9h-8z"/>
<path fill="#0080ff" d="M350 180h8v9h-8zM569 180h9v9h-9zM333 189h8v8h-8zM578 189h8v8h-8zM324 206h9v8h-9zM611 206h9v8h-9zM383 222h9v9h-9zM451 222h8v9h-8zM316 231h8v8h-8zM434 231h8v8h-8zM307 248h9v8h-9zM316 248h8v8h-8zM324 248h9v8h-9zM307 256h9v8h-9zM316 256h8v8h-8zM307 264h9v9h-9zM637 264h8v9h-8zM316 273h8v8h-8zM392 273h8v8h-8zM400 273h9v8h-9zM409 273h8v8h-8zM417 273h9v8h-9zM426 273h8v8h-8zM628 273h9v8h-9zM324 281h9v9h-9zM333 281h8v9h-8zM358 281h8v9h-8zM366 281h9v9h-9zM375 281h8v9h-8zM383 281h9v9h-9zM392 281h8v9h-8zM400 281h9v9h-9zM409 281h8v9h-8zM417 281h9v9h-9zM426 281h8v9h-8zM434 281h8v9h-8zM544 281h8v9h-8zM569 281h9v9h-9zM578 281h8v9h-8zM341 290h9v8h-9zM350 290h8v8h-8zM426 290h8v8h-8zM434 290h8v8h-8zM442 290h9v8h-9zM451 290h8v8h-8zM476 290h9v8h-9zM485 290h8v8h-8z"/>
<path fill="#0098ff" d="M358 180h8v9h-8zM366 180h9v9h-9zM375 180h8v9h-8zM383 180h9v9h-9zM392 180h8v9h-8zM400 180h9v9h-9zM409 180h8v9h-8zM417 180h9v9h-9zM426 180h8v9h-8zM434 180h8v9h-8zM442 180h9v9h-9zM451 180h8v9h-8zM459 180h9v9h-9zM468 180h8v9h-8zM476 180h9v9h-9zM485 180h8v9h-8zM493 180h9v9h-9zM502 180h8v9h-8zM510 180h8v9h-8zM518 180h9v9h-9zM527 180h8v9h-8zM535 180h9v9h-9zM561 180h8v9h-8zM341 189h9v8h-9zM333 197h8v9h-8zM586 197h8v9h-8zM324 214h9v8h-9zM704 222h10v9h-10zM350 231h8v8h-8zM383 231h9v8h-9zM442 231h9v8h-9zM324 239h9v9h-9zM333 239h8v9h-8zM696 248h8v8h-8zM392 264h8v9h-8zM400 264h9v9h-9zM409 264h8v9h-8zM417 264h9v9h-9zM324 273h9v8h-9zM366 273h9v8h-9zM442 273h9v8h-9zM611 273h9v8h-9zM451 281h8v9h-8zM459 281h9v9h-9zM527 281h8v9h-8z"/>
<path fill="#00a4ff" d="M544 180h8v9h-8zM552 180h9v9h-9zM662 214h8v8h-8zM324 222h9v9h-9zM105 231h8v8h-8zM375 231h8v8h-8zM451 231h8v8h-8zM341 239h9v9h-9zM687 248h9v8h-9zM333 256h8v8h-8zM324 264h9v9h-9zM383 264h9v9h-9zM426 264h8v9h-8zM628 264h9v9h-9zM333 273h8v8h-8zM350 273h8v8h-8zM358 273h8v8h-8zM603 273h8v8h-8zM468 281h8v9h-8zM518 281h9v9h-9z"/>
<path fill="#0000b6" d="M679 180h8v9h-8zM687 180h9v9h-9zM696 180h8v9h-8zM704 180h10v9h-10zM611 197h9v9h-9zM662 206h8v8h-8zM670 206h9v8h-9zM679 206h8v8h-8zM687 206h9v8h-9zM696 206h8v8h-8zM704 206h10v8h-10zM155 222h9v9h-9zM164 222h8v9h-8zM172 222h9v9h-9zM274 248h8v8h-8zM198 273h8v8h-8zM206 273h8v8h-8zM214 273h9v8h-9zM223 273h8v8h-8zM274 273h8v8h-8zM662 332h8v8h-8zM670 332h9v8h-9zM679 332h8v8h-8zM687 357h9v9h-9zM696 357h8v9h-8zM704 357h10v9h-10z"/>
<path fill="#00009f" d="M105 189h8v8h-8zM113 189h9v8h-9zM231 273h9v8h-9zM240 273h8v8h-8zM248 273h9v8h-9zM257 273h8v8h-8zM265 273h9v8h-9zM214 290h9v8h-9zM223 290h8v8h-8zM231 290h9v8h-9zM240 290h8v8h-8zM248 290h9v8h-9zM257 290h8v8h-8zM265 290h9v8h-9zM274 290h8v8h-8zM214 298h9v9h-9zM223 298h8v9h-8zM231 298h9v9h-9zM240 298h8v9h-8zM248 298h9v9h-9zM257 298h8v9h-8zM265 298h9v9h-9zM274 298h8v9h-8zM687 332h9v8h-9zM696 332h8v8h-8zM704 332h10v8h-10z"/>
<path fill="#00ccff" d="M350 189h8v8h-8zM358 189h8v8h-8zM341 197h9v9h-9zM333 214h8v8h-8zM645 214h9v8h-9zM333 222h8v9h-8zM358 222h8v9h-8zM459 222h9v9h-9zM350 239h8v9h-8zM358 239h8v9h-8zM696 239h8v9h-8zM392 248h8v8h-8zM400 248h9v8h-9zM409 248h8v8h-8zM417 248h9v8h-9zM654 248h8v8h-8zM341 256h9v8h-9zM434 256h8v8h-8zM341 264h9v9h-9zM358 264h8v9h-8zM442 264h9v9h-9zM620 264h8v9h-8z"/>
<path fill="#00d8ff" d="M366 189h9v8h-9zM561 189h8v8h-8zM578 197h8v9h-8zM594 206h9v8h-9zM350 222h8v9h-8zM468 222h8v9h-8zM696 222h8v9h-8zM696 231h8v8h-8zM366 239h9v9h-9zM400 239h9v9h-9zM409 239h8v9h-8zM417 239h9v9h-9zM687 239h9v9h-9zM426 248h8v8h-8zM645 248h9v8h-9zM375 256h8v8h-8zM628 256h9v8h-9zM350 264h8v9h-8zM451 264h8v9h-8zM459 273h9v8h-9zM544 273h8v8h-8z"/>
<path fill="#00e4f8" d="M375 189h8v8h-8zM552 189h9v8h-9zM341 206h9v8h-9zM341 222h9v9h-9zM476 222h9v9h-9zM459 231h9v8h-9zM375 239h8v9h-8zM383 239h9v9h-9zM392 239h8v9h-8zM426 239h8v9h-8zM350 248h8v8h-8zM383 248h9v8h-9zM434 248h8v8h-8zM350 256h8v8h-8zM442 256h9v8h-9zM611 264h9v9h-9zM468 273h8v8h-8z"/>
<path fill="#09f0ee" d="M383 189h9v8h-9zM544 189h8v8h-8zM350 197h8v9h-8zM400 214h9v8h-9zM409 214h8v8h-8zM417 214h9v8h-9zM637 214h8v8h-8zM687 222h9v9h-9zM468 231h8v8h-8zM476 231h9v8h-9zM687 231h9v8h-9zM434 239h8v9h-8zM679 239h8v9h-8zM637 248h8v8h-8zM366 256h9v8h-9zM603 264h8v9h-8zM476 273h9v8h-9zM527 273h8v8h-8zM535 273h9v8h-9z"/>
<path fill="#1fffd7" d="M392 189h8v8h-8zM400 189h9v8h-9zM409 189h8v8h-8zM417 189h9v8h-9zM426 189h8v8h-8zM434 189h8v8h-8zM527 189h8v8h-8zM383 214h9v8h-9zM654 222h8v9h-8zM485 231h8v8h-8zM654 231h8v8h-8zM662 239h8v9h-8zM358 256h8v8h-8zM459 264h9v9h-9zM594 264h9v9h-9z"/>
<path fill="#33ffc4" d="M442 189h9v8h-9zM451 189h8v8h-8zM561 197h8v9h-8zM366 214h9v8h-9zM502 231h8v8h-8zM645 239h9v9h-9zM375 248h8v8h-8zM628 248h9v8h-9zM561 264h8v9h-8zM569 264h9v9h-9z"/>
<path fill="#29ffce" d="M459 189h9v8h-9zM468 189h8v8h-8zM476 189h9v8h-9zM485 189h8v8h-8zM493 189h9v8h-9zM502 189h8v8h-8zM510 189h8v8h-8zM518 189h9v8h-9zM358 197h8v9h-8zM350 214h8v8h-8zM375 214h8v8h-8zM628 214h9v8h-9zM645 222h9v9h-9zM493 231h9v8h-9zM645 231h9v8h-9zM451 239h8v9h-8zM654 239h8v9h-8zM358 248h8v8h-8zM451 248h8v8h-8zM620 256h8v8h-8zM578 264h8v9h-8zM586 264h8v9h-8z"/>
<path fill="#16ffe1" d="M535 189h9v8h-9zM569 197h9v9h-9zM341 214h9v8h-9zM392 214h8v8h-8zM426 214h8v8h-8zM485 222h8v9h-8zM662 222h8v9h-8zM670 222h9v9h-9zM679 222h8v9h-8zM662 231h8v8h-8zM670 231h9v8h-9zM679 231h8v8h-8zM442 239h9v9h-9zM670 239h9v9h-9zM442 248h9v8h-9zM451 256h8v8h-8zM485 273h8v8h-8zM493 273h9v8h-9zM502 273h8v8h-8zM510 273h8v8h-8zM518 273h9v8h-9z"/>
<path fill="#00b0ff" d="M569 189h9v8h-9zM603 206h8v8h-8zM375 222h8v9h-8zM324 231h9v8h-9zM341 231h9v8h-9zM366 231h9v8h-9zM704 239h10v9h-10zM341 248h9v8h-9zM670 248h9v8h-9zM679 248h8v8h-8zM392 256h8v8h-8zM400 256h9v8h-9zM409 256h8v8h-8zM417 256h9v8h-9zM637 256h8v8h-8zM333 264h8v9h-8zM375 264h8v9h-8zM434 264h8v9h-8zM341 273h9v8h-9zM451 273h8v8h-8zM578 273h8v8h-8zM586 273h8v8h-8zM594 273h9v8h-9zM476 281h9v9h-9zM485 281h8v9h-8zM493 281h9v9h-9zM502 281h8v9h-8zM510 281h8v9h-8z"/>
<path fill="#0000a8" d="M611 189h9v8h-9zM138 197h9v9h-9zM147 197h8v9h-8zM113 214h9v8h-9zM274 256h8v8h-8zM274 264h8v9h-8zM105 323h8v9h-8zM113 323h9v9h-9zM122 323h8v9h-8zM130 323h8v9h-8zM138 323h9v9h-9zM147 323h8v9h-8zM155 323h9v9h-9zM164 323h8v9h-8zM172 323h9v9h-9zM181 323h8v9h-8zM189 332h9v8h-9zM198 332h8v8h-8zM206 332h8v8h-8zM214 332h9v8h-9zM155 340h9v9h-9zM164 340h8v9h-8zM172 340h9v9h-9zM181 340h8v9h-8zM189 340h9v9h-9zM662 340h8v9h-8zM670 340h9v9h-9zM679 340h8v9h-8zM670 349h9v8h-9zM679 349h8v8h-8zM687 349h9v8h-9zM696 349h8v8h-8zM704 349h10v8h-10z"/>
<path fill="#00009b" d="M620 189h8v8h-8zM122 197h8v9h-8zM130 197h8v9h-8zM620 197h8v9h-8zM628 197h9v9h-9zM147 206h8v8h-8zM155 206h9v8h-9zM164 206h8v8h-8zM172 206h9v8h-9zM257 214h8v8h-8zM265 214h9v8h-9zM274 231h8v8h-8zM206 239h8v9h-8zM214 239h9v9h-9zM223 239h8v9h-8zM231 239h9v9h-9zM240 239h8v9h-8zM248 239h9v9h-9zM257 239h8v9h-8zM265 239h9v9h-9zM105 340h8v9h-8zM113 340h9v9h-9zM122 340h8v9h-8zM130 340h8v9h-8zM138 340h9v9h-9zM147 340h8v9h-8zM687 340h9v9h-9zM696 340h8v9h-8zM704 340h10v9h-10z"/>
<path fill="#00008d" d="M628 189h9v8h-9zM637 189h8v8h-8zM645 189h9v8h-9zM654 189h8v8h-8zM662 189h8v8h-8zM670 189h9v8h-9zM679 189h8v8h-8zM687 189h9v8h-9zM696 189h8v8h-8zM704 189h10v8h-10zM105 197h8v9h-8zM113 197h9v9h-9z"/>
<path fill="#0014ff" d="M282 197h8v9h-8zM290 197h9v9h-9zM299 197h8v9h-8z"/>
<path fill="#49ffad" d="M366 197h9v9h-9zM527 231h8v8h-8zM628 231h9v8h-9zM637 239h8v9h-8zM611 256h9v8h-9zM476 264h9v9h-9zM552 264h9v9h-9z"/>
<path fill="#66ff90" d="M375 197h8v9h-8zM518 222h9v9h-9zM527 222h8v9h-8zM544 222h8v9h-8zM552 222h9v9h-9zM611 222h9v9h-9zM552 231h9v8h-9zM620 231h8v8h-8zM468 239h8v9h-8zM476 256h9v8h-9zM594 256h9v8h-9zM502 264h8v9h-8zM535 264h9v9h-9z"/>
<path fill="#87ff70" d="M383 197h9v9h-9zM366 206h9v8h-9zM561 231h8v8h-8z"/>
<path fill="#9aff5d" d="M392 197h8v9h-8zM451 214h8v8h-8zM594 214h9v8h-9zM569 231h9v8h-9zM552 256h9v8h-9z"/>
<path fill="#b1ff46" d="M400 197h9v9h-9zM409 197h8v9h-8zM417 197h9v9h-9zM426 197h8v9h-8zM578 231h8v8h-8zM586 231h8v8h-8zM493 248h9v8h-9zM544 256h8v8h-8z"/>
<path fill="#baff3c" d="M434 197h8v9h-8zM383 206h9v8h-9zM586 248h8v8h-8zM510 256h8v8h-8z"/>
<path fill="#d7ff1f" d="M442 197h9v9h-9zM417 206h9v8h-9zM510 248h8v8h-8z"/>
<path fill="#eeff09" d="M451 197h8v9h-8zM468 214h8v8h-8zM578 214h8v8h-8zM569 239h9v9h-9zM594 239h9v9h-9zM518 248h9v8h-9z"/>
<path fill="#ffea00" d="M459 197h9v9h-9zM468 197h8v9h-8zM476 197h9v9h-9zM485 197h8v9h-8zM493 197h9v9h-9zM502 197h8v9h-8zM510 197h8v9h-8zM518 197h9v9h-9zM527 239h8v9h-8z"/>
<path fill="#f8f500" d="M527 197h8v9h-8zM535 197h9v9h-9zM569 214h9v8h-9zM578 239h8v9h-8zM586 239h8v9h-8zM527 248h8v8h-8zM535 248h9v8h-9z"/>
<path fill="#c4ff33" d="M544 197h8v9h-8zM392 206h8v8h-8zM569 206h9v8h-9zM459 214h9v8h-9zM586 214h8v8h-8zM510 239h8v9h-8zM611 239h9v9h-9zM502 248h8v8h-8zM561 248h8v8h-8zM569 248h9v8h-9zM578 248h8v8h-8zM518 256h9v8h-9zM527 256h8v8h-8zM535 256h9v8h-9z"/>
<path fill="#90ff66" d="M552 197h9v9h-9zM561 222h8v9h-8zM586 222h8v9h-8zM603 231h8v8h-8zM476 248h9v8h-9zM603 248h8v8h-8zM493 256h9v8h-9z"/>
<path fill="#000084" d="M637 197h8v9h-8zM645 197h9v9h-9zM654 197h8v9h-8zM662 197h8v9h-8zM670 197h9v9h-9zM679 197h8v9h-8zM687 197h9v9h-9zM696 197h8v9h-8zM704 197h10v9h-10z"/>
<path fill="#000092" d="M105 206h8v8h-8zM113 206h9v8h-9zM122 206h8v8h-8zM130 206h8v8h-8zM138 206h9v8h-9zM122 214h8v8h-8zM130 214h8v8h-8zM138 214h9v8h-9zM147 214h8v8h-8zM155 214h9v8h-9zM164 214h8v8h-8zM172 214h9v8h-9zM181 214h8v8h-8zM189 214h9v8h-9zM198 214h8v8h-8zM206 214h8v8h-8zM214 214h9v8h-9zM223 214h8v8h-8zM231 214h9v8h-9zM240 214h8v8h-8zM248 214h9v8h-9zM181 222h8v9h-8zM189 222h9v9h-9zM198 222h8v9h-8zM206 222h8v9h-8zM214 222h9v9h-9zM223 222h8v9h-8zM231 222h9v9h-9zM240 222h8v9h-8zM248 222h9v9h-9zM257 222h8v9h-8zM265 222h9v9h-9zM206 231h8v8h-8zM214 231h9v8h-9zM223 231h8v8h-8zM231 231h9v8h-9zM240 231h8v8h-8zM248 231h9v8h-9zM257 231h8v8h-8zM265 231h9v8h-9zM164 256h8v8h-8zM172 256h9v8h-9zM181 256h8v8h-8zM189 256h9v8h-9zM198 256h8v8h-8zM206 256h8v8h-8zM214 256h9v8h-9zM223 256h8v8h-8zM231 256h9v8h-9zM240 256h8v8h-8zM248 256h9v8h-9zM257 256h8v8h-8zM265 256h9v8h-9zM105 332h8v8h-8zM113 332h9v8h-9zM122 332h8v8h-8zM130 332h8v8h-8zM138 332h9v8h-9zM147 332h8v8h-8zM155 332h9v8h-9zM164 332h8v8h-8zM172 332h9v8h-9zM181 332h8v8h-8z"/>
<path fill="#0000ad" d="M181 206h8v8h-8zM189 206h9v8h-9zM198 206h8v8h-8zM206 206h8v8h-8zM214 307h9v8h-9zM223 307h8v8h-8zM231 307h9v8h-9zM240 307h8v8h-8zM248 307h9v8h-9zM257 307h8v8h-8zM265 307h9v8h-9z"/>
<path fill="#00c0ff" d="M333 206h8v8h-8zM654 214h8v8h-8zM366 222h9v9h-9zM333 231h8v8h-8zM358 231h8v8h-8zM704 231h10v8h-10zM662 248h8v8h-8zM383 256h9v8h-9zM426 256h8v8h-8zM366 264h9v9h-9zM552 273h9v8h-9zM561 273h8v8h-8zM569 273h9v8h-9z"/>
<path fill="#3cffba" d="M350 206h8v8h-8zM586 206h8v8h-8zM358 214h8v8h-8zM434 214h8v8h-8zM620 214h8v8h-8zM493 222h9v9h-9zM637 222h8v9h-8zM510 231h8v8h-8zM518 231h9v8h-9zM637 231h8v8h-8zM366 248h9v8h-9zM459 256h9v8h-9zM468 264h8v9h-8z"/>
<path fill="#5dff9a" d="M358 206h8v8h-8zM611 214h9v8h-9zM510 222h8v9h-8zM544 231h8v8h-8zM459 239h9v9h-9zM459 248h9v8h-9zM493 264h9v9h-9zM544 264h8v9h-8z"/>
<path fill="#a4ff53" d="M375 206h8v8h-8zM569 222h9v9h-9zM578 222h8v9h-8zM594 231h9v8h-9zM502 239h8v9h-8zM620 239h8v9h-8zM485 248h8v8h-8zM594 248h9v8h-9zM502 256h8v8h-8z"/>
<path fill="#ceff29" d="M400 206h9v8h-9zM409 206h8v8h-8zM552 248h9v8h-9z"/>
<path fill="#e4ff13" d="M426 206h8v8h-8zM518 239h9v9h-9zM552 239h9v9h-9zM561 239h8v9h-8zM603 239h8v9h-8zM544 248h8v8h-8z"/>
<path fill="#ffd000" d="M434 206h8v8h-8zM535 239h9v9h-9z"/>
<path fill="#ff9400" d="M442 206h9v8h-9zM552 206h9v8h-9zM485 214h8v8h-8zM561 214h8v8h-8z"/>
<path fill="#ff7e00" d="M451 206h8v8h-8zM552 214h9v8h-9z"/>
<path fill="#ff5900" d="M459 206h9v8h-9zM544 206h8v8h-8z"/>
<path fill="#ff2d00" d="M468 206h8v8h-8z"/>
<path fill="#d60000" d="M476 206h9v8h-9zM527 214h8v8h-8z"/>
<path fill="#c40000" d="M485 206h8v8h-8zM510 214h8v8h-8zM518 214h9v8h-9z"/>
<path fill="#b60000" d="M493 206h9v8h-9zM502 206h8v8h-8z"/>
<path fill="#9b0000" d="M510 206h8v8h-8zM518 206h9v8h-9z"/>
<path fill="#a80000" d="M527 206h8v8h-8z"/>
<path fill="#ff1300" d="M535 206h9v8h-9zM502 214h8v8h-8z"/>
<path fill="#ffde00" d="M561 206h8v8h-8zM544 239h8v9h-8z"/>
<path fill="#70ff87" d="M578 206h8v8h-8zM442 214h9v8h-9zM603 214h8v8h-8zM535 222h9v9h-9zM603 222h8v9h-8zM468 248h8v8h-8zM611 248h9v8h-9zM578 256h8v8h-8zM586 256h8v8h-8zM510 264h8v9h-8zM518 264h9v9h-9zM527 264h8v9h-8z"/>
<path fill="#ffb900" d="M476 214h9v8h-9z"/>
<path fill="#ff4e00" d="M493 214h9v8h-9z"/>
<path fill="#f10800" d="M535 214h9v8h-9z"/>
<path fill="#ff6800" d="M544 214h8v8h-8z"/>
<path fill="#008cff" d="M670 214h9v8h-9zM316 239h8v9h-8zM333 248h8v8h-8zM704 248h10v8h-10zM324 256h9v8h-9zM645 256h9v8h-9zM316 264h8v9h-8zM375 273h8v8h-8zM383 273h9v8h-9zM434 273h8v8h-8zM620 273h8v8h-8zM341 281h9v9h-9zM350 281h8v9h-8zM442 281h9v9h-9zM535 281h9v9h-9zM561 281h8v9h-8z"/>
<path fill="#53ffa4" d="M502 222h8v9h-8zM620 222h8v9h-8zM628 222h9v9h-9zM535 231h9v8h-9zM620 248h8v8h-8zM468 256h8v8h-8zM603 256h8v8h-8zM485 264h8v9h-8z"/>
<path fill="#7dff7a" d="M594 222h9v9h-9zM611 231h9v8h-9zM476 239h9v9h-9zM485 239h8v9h-8zM493 239h9v9h-9zM628 239h9v9h-9zM485 256h8v8h-8zM561 256h8v8h-8zM569 256h9v8h-9z"/>
<path fill="#0000fa" d="M155 239h9v9h-9zM164 239h8v9h-8zM164 290h8v8h-8zM172 290h9v8h-9zM181 290h8v8h-8zM189 290h9v8h-9z"/>
<path fill="#0000a4" d="M206 248h8v8h-8zM214 248h9v8h-9zM223 248h8v8h-8zM231 248h9v8h-9zM240 248h8v8h-8zM248 248h9v8h-9zM257 248h8v8h-8zM265 248h9v8h-9z"/>
<path fill="#000096" d="M206 264h8v9h-8zM214 264h9v9h-9zM223 264h8v9h-8zM231 264h9v9h-9zM240 264h8v9h-8zM248 264h9v9h-9zM257 264h8v9h-8zM265 264h9v9h-9z"/>
<path fill="#0000b2" d="M206 281h8v9h-8zM214 281h9v9h-9zM223 281h8v9h-8zM231 281h9v9h-9zM240 281h8v9h-8zM248 281h9v9h-9zM257 281h8v9h-8zM265 281h9v9h-9zM274 281h8v9h-8z"/>
<path fill="#0078ff" d="M366 290h9v8h-9zM375 290h8v8h-8zM383 290h9v8h-9zM392 290h8v8h-8zM400 290h9v8h-9zM409 290h8v8h-8zM417 290h9v8h-9z"/>
<path fill="#001cff" d="M578 340h8v9h-8zM586 340h8v9h-8zM594 340h9v9h-9zM603 340h8v9h-8z"/>
</g>
<g clip-path="url(#mc)">
<g opacity="0.22" fill="#cdcdcd">
<g id="lf"><path d="M129.2 132.2L132.5 126.6L139.2 124.3L148.5 122.6L156.0 123.5L167.8 124.6L174.5 125.5L184.6 126.0L196.4 124.5L208.1 125.6L218.2 127.7L230.0 127.7L246.8 128.5L253.5 127.3L260.2 126.8L268.6 125.6L273.6 128.2L273.6 130.7L266.9 132.4L266.9 134.9L260.2 136.6L253.5 141.6L253.5 143.8L256.8 146.6L263.6 148.3L273.6 150.0L273.6 154.2L277.0 156.2L278.7 151.7L282.0 148.3L280.4 145.0L281.2 140.8L280.4 137.4L287.1 137.7L293.8 139.9L294.6 143.3L302.2 141.1L303.0 141.3L308.1 147.5L315.6 152.5L317.8 155.0L310.6 158.1L299.7 158.1L292.1 163.8L302.2 160.2L302.5 163.4L308.9 166.0L310.6 165.1L304.7 167.6L300.5 168.8L298.8 167.3L293.5 169.2L292.8 172.5L290.4 173.5L287.1 174.4L287.1 176.0L284.6 177.7L283.7 180.2L284.6 183.1L281.2 184.4L278.7 186.5L275.3 189.0L274.6 191.2L276.2 195.4L276.8 198.7L275.5 200.2L274.0 198.4L272.3 195.4L271.5 192.8L269.4 192.0L266.1 191.3L261.9 191.5L261.4 193.7L258.5 193.2L253.5 192.7L248.4 195.4L247.6 199.1L247.3 203.8L247.6 206.3L249.6 210.0L252.6 211.8L256.8 211.2L259.4 209.6L259.7 207.1L264.9 206.3L264.4 210.5L263.2 213.0L263.1 215.5L268.6 215.5L271.5 217.2L271.1 222.2L270.8 223.9L273.6 227.3L277.8 226.4L281.2 228.1L281.5 229.1L280.4 230.1L277.0 230.1L272.8 228.6L267.8 225.6L267.3 223.6L264.4 220.6L258.5 219.0L256.0 218.0L252.6 215.4L249.3 216.0L245.9 215.0L241.7 213.3L236.7 210.8L234.2 208.8L234.5 206.3L232.5 203.4L229.1 199.6L227.4 197.2L225.1 195.5L222.4 192.5L218.7 189.1L219.0 191.7L221.2 194.0L222.9 196.7L224.6 199.1L226.1 201.7L227.6 203.6L226.1 202.9L223.1 200.7L222.7 197.9L219.5 195.7L219.9 194.4L216.9 191.3L214.7 187.8L212.3 185.3L208.8 184.3L206.6 180.9L205.6 178.9L203.4 175.5L202.7 172.2L203.1 168.5L203.1 164.6L201.9 161.1L204.8 160.9L205.6 159.7L201.4 157.6L197.2 156.7L192.2 150.8L189.6 148.3L184.6 145.0L180.4 143.6L176.2 141.9L169.5 141.6L165.3 139.9L162.8 141.6L159.4 142.4L156.0 141.9L152.7 144.1L148.5 147.0L144.3 148.8L139.2 150.0L134.5 151.0L139.2 148.7L146.0 145.8L147.6 143.8L142.6 143.6L139.2 141.9L135.0 140.8L133.4 138.2L135.0 136.2L140.9 134.0L134.2 134.0ZM288.8 110.5L300.5 107.2L310.6 105.0L327.4 103.8L344.2 102.3L361.0 102.0L374.4 103.8L377.8 105.5L391.2 105.5L382.8 108.0L379.5 111.4L380.3 113.9L377.8 116.4L375.3 118.9L374.4 122.3L370.2 125.6L367.7 127.3L357.6 128.2L352.6 131.5L347.6 132.4L344.2 133.2L340.8 137.4L338.3 141.6L335.8 141.3L330.8 139.9L327.4 137.4L324.9 134.0L322.4 130.7L321.5 127.3L325.7 126.0L319.8 124.0L323.2 122.6L319.0 120.6L315.6 117.2L310.6 114.7L300.5 114.4L293.8 113.0L288.8 110.5ZM268.6 118.9L280.4 120.1L290.4 123.1L297.2 124.8L299.7 128.2L305.6 130.7L307.2 133.2L302.2 135.7L302.2 138.2L297.2 137.4L290.4 135.2L287.1 134.0L281.2 134.0L280.4 131.5L287.9 129.3L288.8 128.2L283.7 126.8L277.0 124.8L263.6 124.0L261.0 122.3ZM211.5 122.3L221.6 119.8L233.3 119.8L240.9 124.8L235.0 126.8L220.7 127.3L213.2 126.0ZM277.0 114.2L260.2 113.9L256.8 108.0L268.6 105.0L293.8 103.1L307.2 104.1L297.2 108.0L290.4 110.0L283.7 111.4ZM277.0 115.6L261.0 113.9L250.1 114.7L256.8 117.1L277.0 117.2ZM201.4 121.4L203.1 117.6L214.8 117.6L217.4 119.8L209.8 122.4ZM236.7 115.6L226.6 113.4L213.2 114.4L214.8 117.1L233.3 117.1ZM248.4 121.4L248.4 118.1L241.7 118.9L241.7 121.4ZM260.2 120.6L260.2 118.2L251.0 118.1L253.5 121.1ZM268.6 108.8L258.5 106.0L250.1 108.0L256.8 110.9ZM276.2 135.7L270.3 131.5L265.2 133.2L266.9 135.2L272.0 137.9ZM311.6 162.4L317.3 155.7L318.2 158.7L322.4 160.1L322.9 162.6L321.5 164.1L318.2 163.4ZM268.6 205.6L273.6 203.4L277.0 203.6L281.2 205.8L284.2 207.0L286.9 208.5L284.6 209.0L280.9 209.0L281.7 207.8L279.5 206.1L274.5 205.3L272.8 206.1L269.4 205.8ZM286.4 211.5L289.1 209.0L293.8 209.3L296.7 211.2L293.8 211.8L291.4 212.8L287.9 211.8ZM279.9 211.5L283.4 211.8L282.4 212.5L280.4 212.0ZM298.5 211.3L301.2 211.5L300.9 212.2L298.5 212.2ZM281.5 228.0L284.6 224.8L286.2 223.9L289.9 222.4L291.6 221.6L291.1 223.9L293.8 223.1L296.3 223.9L300.5 224.6L305.6 224.4L308.1 224.8L308.9 228.0L311.4 229.0L314.8 232.3L319.0 232.3L324.0 234.0L325.7 235.7L327.4 239.4L327.4 242.4L329.9 244.1L336.6 246.6L341.7 247.4L346.7 248.6L352.1 251.3L352.9 255.0L352.1 258.4L349.2 260.9L346.2 264.2L345.9 269.3L344.7 275.2L342.5 279.4L339.2 281.0L335.8 282.4L329.9 286.1L329.6 290.3L326.6 294.5L323.2 298.7L321.5 300.4L319.0 301.2L315.6 300.4L313.1 300.4L315.6 302.9L314.8 306.2L307.2 307.9L306.4 311.3L302.2 311.3L303.0 313.8L302.2 318.0L298.0 320.5L300.5 323.0L296.3 327.2L296.3 330.3L296.3 333.1L301.9 334.3L298.8 334.8L296.3 335.6L292.1 334.8L287.1 331.4L284.6 326.4L286.2 321.4L284.6 319.7L287.9 314.6L287.1 311.3L287.9 306.2L291.1 297.8L291.3 292.8L293.0 284.4L293.5 276.0L293.1 273.1L290.4 271.0L284.6 267.6L282.9 264.2L280.4 260.0L277.8 255.0L274.8 250.8L276.2 248.3L276.8 246.6L275.3 244.9L277.0 241.1L279.2 239.4L281.2 236.5L281.5 231.8L280.5 230.3ZM308.1 328.6L314.3 328.9L313.1 330.1L309.8 330.1ZM109.0 133.2L117.4 134.0L120.8 134.4L121.6 132.4L126.3 131.4L123.3 130.0L117.4 128.7L112.4 127.3L109.0 126.6ZM631.5 184.8L634.0 182.9L639.0 182.4L641.2 179.7L644.1 179.4L646.6 176.0L646.6 173.9L649.1 172.8L649.8 175.2L649.1 178.1L648.3 180.2L647.9 182.3L646.3 183.6L644.6 184.3L641.6 184.3L639.5 186.1L638.2 184.8L634.8 184.8L631.5 185.4ZM629.3 186.3L631.3 185.4L633.0 187.0L631.8 189.6L630.1 190.0L630.0 187.6ZM634.0 186.5L636.9 184.9L637.7 185.6L634.8 187.3ZM646.6 172.7L648.3 172.2L652.1 171.8L655.8 169.7L655.3 168.0L650.0 166.0L649.3 169.8L647.3 169.7L646.6 171.5ZM650.0 165.1L652.5 160.1L652.0 156.7L651.1 151.2L650.1 155.0L649.8 160.9ZM613.2 203.8L614.7 200.1L616.4 200.4L614.7 205.4L614.2 205.6ZM593.8 210.1L597.0 208.6L597.9 209.5L595.4 211.8L593.8 211.3ZM545.5 225.9L548.8 229.8L548.5 231.8L546.0 232.2L545.5 229.0ZM613.0 211.3L616.7 211.3L616.9 213.8L615.7 215.9L619.7 220.6L618.9 221.4L614.7 218.9L613.0 215.5ZM616.4 230.6L622.2 225.9L623.9 230.6L622.2 233.0L619.7 230.6ZM616.4 224.8L618.9 223.1L622.2 222.2L621.4 225.6L618.0 226.8ZM608.3 228.3L612.2 223.2L612.5 224.8L609.3 228.3ZM594.5 239.9L595.5 239.0L597.9 239.5L601.2 237.0L605.4 233.7L608.0 230.6L610.8 234.0L609.6 234.8L609.1 237.4L611.0 240.7L608.8 242.4L607.6 244.9L607.1 248.3L603.8 248.6L601.2 247.4L597.9 247.4L596.2 245.4L595.4 242.4ZM571.5 233.0L575.2 233.7L579.4 238.2L585.8 244.1L589.5 247.4L589.1 252.3L587.0 252.1L582.8 248.3L580.2 244.9L577.4 239.9L573.5 236.5ZM588.1 253.8L590.3 252.5L593.3 253.0L597.0 254.0L600.4 253.8L603.6 255.5L603.8 257.0L597.9 256.2L592.8 255.5L589.5 254.8ZM604.6 256.2L611.3 256.2L618.0 256.2L618.9 257.0L611.3 257.5L604.6 257.4ZM619.7 259.7L625.3 256.5L621.4 257.5ZM611.3 258.4L614.3 258.9L613.0 259.7ZM612.2 251.8L611.8 248.3L611.0 246.9L612.7 241.6L613.8 240.7L621.2 239.7L621.7 240.0L618.0 241.6L614.7 241.6L615.5 244.1L618.7 243.7L615.2 245.6L617.7 250.0L615.5 250.3L613.8 247.1L613.7 251.6ZM625.6 239.0L627.3 239.9L626.4 242.4L627.3 243.7L625.6 243.2ZM626.4 247.4L631.1 247.8L629.8 248.6L626.4 248.4ZM631.5 244.6L634.0 243.1L636.9 244.1L639.0 247.9L643.2 245.3L648.3 246.8L656.3 250.6L659.2 252.8L660.0 255.8L663.4 259.7L658.4 259.2L656.7 255.8L653.3 255.2L651.6 257.5L648.3 257.7L644.1 256.3L642.9 250.8L638.2 249.6L634.8 249.1L633.2 247.1ZM660.9 251.6L666.8 249.5L665.9 251.6L663.4 252.8ZM602.1 279.4L603.3 279.7L607.6 277.0L611.3 276.0L615.5 273.5L616.7 271.0L620.6 269.3L623.1 265.9L626.9 267.4L629.8 264.2L631.5 262.9L634.2 261.7L637.7 262.6L641.2 263.1L639.5 267.6L645.8 271.8L649.1 267.6L649.1 263.4L650.8 260.4L652.5 265.9L655.5 267.6L656.7 273.5L661.4 276.8L664.7 280.2L668.6 285.2L669.4 290.3L668.4 295.3L665.6 299.2L663.4 305.4L660.0 305.9L657.2 307.9L654.2 306.6L648.3 306.2L645.9 304.6L644.1 302.0L642.9 297.8L639.9 301.2L639.0 300.7L636.5 297.3L631.5 295.3L624.8 296.7L619.7 299.2L613.0 299.5L609.3 301.4L604.6 300.0L605.8 296.2L604.4 291.1L602.1 286.9ZM654.3 310.8L660.5 311.1L660.0 314.6L658.0 315.6L655.3 313.3ZM704.1 301.5L707.1 304.2L709.4 306.7L713.8 307.1L711.3 309.6L709.9 311.8L707.9 313.6L707.2 313.0L708.3 310.9L706.2 310.1L707.1 307.6L705.9 305.1ZM704.1 311.8L706.7 313.8L705.4 316.0L704.2 317.3L701.5 318.5L700.4 321.0L697.8 322.0L693.6 321.0L696.2 317.7L700.4 315.6L702.9 312.6ZM494.2 262.6L496.2 268.4L494.6 271.8L492.0 279.4L490.5 284.2L487.3 285.4L485.3 283.6L484.1 279.4L486.0 276.0L485.3 271.8L486.2 269.6L489.5 268.8L492.0 265.1ZM401.8 158.4L406.4 157.4L413.6 156.6L414.3 153.9L411.9 152.5L410.6 150.8L408.7 149.0L407.2 148.3L408.4 145.6L406.0 144.0L403.0 144.0L401.0 147.1L402.0 149.5L403.3 150.3L406.0 150.2L405.9 151.7L406.4 152.9L403.7 152.9L404.3 154.5L402.7 155.5L405.5 156.0ZM401.3 154.7L401.3 152.5L402.2 150.7L399.6 149.5L397.1 150.8L394.6 151.7L395.4 154.2L394.1 155.4L398.0 155.7ZM373.6 134.9L371.1 132.4L374.4 130.8L381.2 131.2L386.2 130.7L388.7 132.7L387.0 134.2L381.2 135.9L373.6 135.2ZM429.9 110.5L438.3 108.0L448.4 107.3L456.8 108.0L448.4 111.4L440.0 113.7L434.9 112.2ZM498.8 122.3L503.8 119.8L507.2 115.6L515.6 113.9L526.5 113.0L522.3 115.1L512.2 117.2L507.2 120.6L505.5 123.8L500.4 123.5ZM571.0 109.7L579.4 106.3L587.8 108.8L579.4 111.4ZM641.6 116.4L650.0 114.7L660.0 115.9L651.6 119.4ZM711.3 123.1L713.8 122.3L713.8 123.3ZM109.0 123.3L109.0 122.3L113.2 122.8ZM425.8 172.8L427.4 170.2L427.4 172.8ZM425.5 176.9L425.2 173.7L427.9 173.5L427.5 176.7ZM432.2 178.9L437.6 178.1L436.8 180.7ZM450.9 183.1L455.6 183.3L452.6 183.8ZM465.7 184.1L469.5 182.4L468.4 183.8ZM401.5 182.3L408.0 183.4L413.1 181.1L416.4 180.6L422.3 180.2L427.9 179.7L429.9 180.4L429.0 181.4L430.0 183.3L428.2 184.8L430.7 187.0L433.6 187.1L437.4 189.0L443.3 191.5L445.0 190.3L445.3 188.3L448.4 187.1L453.4 189.3L460.1 190.5L463.5 189.3L465.7 189.8L468.9 189.8L470.0 192.8L469.0 195.7L467.7 194.5L466.2 192.2L466.3 193.7L467.8 196.5L468.5 197.9L471.0 202.1L473.2 205.4L474.1 210.5L476.1 212.2L477.8 216.4L481.1 219.7L484.0 221.7L486.2 224.9L490.4 223.8L494.6 223.4L497.4 222.6L497.1 224.9L495.4 229.0L492.0 234.8L488.7 239.0L484.5 243.2L481.1 245.8L478.6 248.3L477.4 250.8L477.8 254.2L477.8 259.2L479.4 260.9L479.4 266.8L477.8 270.1L473.6 272.3L470.2 276.0L471.0 279.4L471.0 282.7L466.8 285.2L466.5 289.4L464.3 292.0L461.8 295.0L458.4 297.8L454.6 299.5L449.2 299.5L445.0 300.9L442.5 300.0L442.1 297.8L441.3 295.3L439.1 290.4L436.9 287.8L435.8 281.0L433.2 276.0L431.2 271.5L432.1 265.9L434.4 260.9L433.6 257.5L432.1 252.5L431.6 250.8L429.9 248.3L427.4 244.1L427.4 240.7L427.9 237.4L426.5 235.7L425.7 234.8L421.5 235.2L419.8 233.2L418.6 231.6L414.8 231.8L413.1 232.5L408.0 234.3L404.7 233.7L398.8 235.0L396.3 234.0L392.1 230.8L389.6 229.0L389.2 226.4L386.2 223.9L383.3 221.6L382.0 217.7L383.7 214.7L384.0 210.5L382.7 207.5L384.5 202.9L387.0 198.7L389.6 195.9L392.1 195.0L394.9 192.8L394.9 189.5L397.1 186.5L400.0 185.3Z"/>
<path fill-rule="evenodd" d="M395.4 170.2L396.4 171.8L396.8 175.2L395.4 177.4L396.6 180.2L399.0 179.9L400.8 181.1L402.0 181.9L403.8 180.7L408.0 180.7L410.2 179.2L411.7 177.2L410.9 176.0L412.9 173.5L416.8 172.0L416.6 170.0L419.3 169.5L424.0 168.8L426.2 167.8L428.5 168.6L429.0 170.3L432.1 172.3L434.9 173.9L437.8 175.2L438.6 177.0L437.8 178.6L439.3 177.9L440.1 176.9L439.1 175.5L440.0 174.4L442.5 175.0L441.6 174.2L438.3 172.8L435.8 171.5L434.2 169.3L432.1 167.6L432.2 166.1L434.4 165.6L434.8 167.0L436.9 168.1L439.0 169.3L442.5 171.0L444.0 172.2L444.0 174.7L445.3 175.9L446.7 178.1L447.9 180.6L449.2 181.2L450.4 181.2L449.7 179.2L451.7 178.6L449.7 174.4L451.7 173.9L455.1 173.9L455.4 174.7L455.4 176.0L456.8 178.6L457.3 180.2L458.9 180.7L462.6 181.4L466.0 181.8L469.4 180.6L471.9 181.6L471.7 183.3L471.0 186.1L470.4 187.0L469.4 189.5L468.9 189.8L470.0 192.8L472.7 196.2L476.1 202.1L477.3 206.3L479.9 210.5L482.8 214.7L484.1 221.1L487.0 220.9L492.9 218.9L498.8 215.9L504.6 213.0L507.2 210.8L509.7 208.0L511.9 204.6L509.7 202.8L506.2 200.6L506.0 198.2L503.8 200.4L500.4 201.7L498.1 201.6L497.4 198.6L496.7 200.4L496.2 198.2L495.4 197.5L492.9 195.0L492.0 192.2L493.4 191.7L495.7 192.0L497.9 195.5L502.1 197.7L506.0 196.9L507.7 199.2L514.9 200.1L523.1 199.7L524.8 202.1L527.0 203.8L529.3 204.4L527.3 204.8L529.0 207.1L532.7 207.0L533.7 209.6L533.7 210.5L534.9 215.5L536.6 218.9L537.9 222.6L539.6 226.4L541.6 228.8L542.9 227.3L545.0 225.1L545.5 222.2L546.3 220.6L546.1 216.4L549.7 214.5L553.4 210.8L556.7 208.5L557.6 206.3L560.1 205.8L562.6 205.4L565.6 204.8L566.5 207.6L569.3 211.3L569.8 215.5L571.5 215.9L575.2 214.3L575.7 217.2L576.9 222.2L576.5 226.4L576.5 229.0L578.7 231.5L579.9 233.2L581.6 237.5L585.3 240.2L586.5 240.0L585.3 235.7L583.6 232.3L581.1 230.8L579.9 228.1L578.1 225.6L578.6 221.4L579.4 219.9L581.1 221.1L583.6 222.2L584.4 223.9L587.5 228.0L590.3 226.4L592.0 224.8L594.9 223.1L594.9 219.7L594.4 216.4L591.2 213.8L589.0 210.5L590.7 207.6L592.8 206.3L595.4 206.3L596.5 208.3L597.0 206.3L602.1 205.1L607.1 203.9L610.5 201.2L613.0 197.9L615.5 194.5L616.4 192.0L616.0 190.3L614.7 187.8L613.5 184.8L611.7 183.6L613.7 181.8L617.2 180.2L615.5 179.2L611.8 179.9L609.6 178.2L609.0 176.9L612.2 175.5L615.5 173.7L615.0 177.2L616.4 175.2L620.1 175.4L621.9 179.1L623.9 179.4L623.8 184.4L628.5 183.3L629.0 181.1L627.1 177.7L625.6 175.5L629.3 173.7L631.0 171.3L633.2 169.8L639.0 168.6L644.1 163.6L647.1 161.3L647.4 156.7L649.0 154.7L647.4 152.7L642.4 152.0L638.5 150.5L642.4 148.3L647.4 145.3L651.6 142.8L660.0 142.8L666.8 143.3L671.8 142.8L674.7 139.1L680.7 138.4L681.0 139.9L676.8 145.0L674.3 148.3L674.5 156.9L678.0 153.4L680.2 150.8L683.6 148.3L685.6 145.3L684.4 144.1L686.9 141.9L690.3 141.1L697.5 141.6L702.0 139.1L709.6 137.4L712.1 137.7L713.8 133.2L713.8 126.5L705.4 125.1L697.0 124.6L690.3 125.6L681.9 125.5L671.8 123.1L663.4 122.3L655.0 120.6L646.6 120.6L638.2 122.1L629.8 123.1L626.4 120.1L621.4 118.9L613.0 119.8L602.1 118.9L596.2 118.1L601.2 114.7L586.1 111.9L576.0 114.4L571.0 114.7L559.2 116.1L555.9 118.1L546.6 118.9L545.8 120.9L539.1 120.6L533.2 120.1L528.2 119.9L526.1 123.1L524.0 126.5L522.3 126.0L513.9 125.1L508.8 127.2L503.8 127.7L500.4 127.3L492.0 128.7L485.3 127.3L484.5 131.0L480.3 130.8L478.6 134.0L473.6 134.9L470.2 134.0L469.4 131.5L475.2 131.5L480.3 129.0L475.2 127.7L466.8 126.0L458.4 123.1L454.2 123.0L445.0 124.8L438.3 127.3L434.9 129.8L432.4 132.4L429.0 134.9L423.2 137.1L419.8 139.9L420.6 143.3L422.3 144.8L424.8 145.0L429.0 142.9L430.7 144.1L431.6 145.8L432.9 149.2L435.4 149.2L439.1 147.8L439.3 145.8L442.8 142.4L440.3 139.9L440.8 137.4L446.7 134.9L448.4 132.0L451.7 131.9L453.9 133.2L448.4 136.6L447.4 139.9L449.2 141.6L453.4 141.3L458.4 140.8L461.8 141.8L458.4 142.4L451.7 142.8L450.9 144.1L452.2 145.3L447.5 145.8L446.7 148.3L446.7 150.0L444.2 151.0L442.5 150.3L438.3 151.2L434.9 151.7L431.6 151.3L429.7 151.7L428.2 150.8L427.4 150.0L429.0 147.5L429.2 145.5L425.7 146.5L425.0 148.3L425.8 150.0L426.0 151.7L423.2 152.5L419.8 152.9L419.3 154.2L417.3 155.9L415.6 156.6L414.1 156.9L413.9 158.2L411.4 159.2L409.2 158.9L408.7 160.6L405.5 160.4L403.5 161.1L404.2 162.1L407.2 162.9L409.4 165.1L409.4 167.6L408.4 169.5L405.0 169.3L398.0 169.0L395.8 170.0ZM458.4 173.2L459.3 169.5L459.6 167.6L461.3 166.3L462.6 164.3L465.2 164.3L467.7 165.1L466.0 166.1L467.7 167.6L471.0 166.8L472.7 166.3L475.2 163.4L476.9 163.1L474.4 165.1L474.4 167.3L476.9 168.1L481.1 172.7L478.6 173.5L473.6 173.4L470.2 171.8L466.8 172.0L464.3 173.2L461.0 173.2Z"/>
<path d="M109.0 374.3L142.6 372.6L159.4 371.8L162.8 369.2L176.2 368.4L193.0 366.7L209.8 365.9L226.6 367.6L243.4 365.0L260.2 365.0L277.0 365.0L285.4 361.7L293.8 358.3L300.5 354.1L307.2 351.3L315.6 348.7L314.0 350.8L310.6 355.0L307.2 360.0L308.9 366.7L327.4 373.4L344.2 373.1L361.0 370.1L377.8 365.9L394.6 361.7L411.4 360.0L428.2 360.0L445.0 360.0L461.8 359.2L478.6 358.3L495.4 355.0L512.2 355.8L529.0 358.3L537.4 359.2L545.8 355.8L562.6 354.1L579.4 353.3L596.2 353.3L613.0 354.1L629.8 353.3L646.6 354.1L663.4 357.5L680.2 360.0L688.6 361.7L697.0 362.5L697.0 365.0L688.6 370.1L693.6 373.4L713.8 374.3L713.8 410.4L109.0 410.4Z"/></g>
<use href="#lf" x="-604.8"/><use href="#lf" x="604.8"/>
</g>
<path d="M491.2 165.6L494.6 164.3L497.1 163.4L500.4 163.6L500.4 166.0L497.6 166.3L497.1 167.6L499.6 170.5L500.4 172.7L500.1 175.2L501.3 176.4L502.0 179.7L497.1 180.6L493.7 179.4L493.4 177.2L494.6 174.9L492.9 172.2L491.2 170.2L490.4 167.6ZM256.7 163.9L261.0 161.8L266.1 160.6L268.9 163.4L263.6 163.6ZM263.9 171.8L264.4 165.5L268.6 165.1L266.4 169.3L266.1 171.8ZM269.4 165.3L274.5 165.3L277.0 167.6L273.0 169.8L271.5 168.0ZM271.5 172.2L275.3 170.7L278.8 170.5L274.5 172.7ZM277.3 169.7L283.2 168.1L283.4 169.5ZM464.7 242.9L468.4 242.1L468.9 244.1L466.8 246.6L464.7 244.9ZM585.8 155.7L587.8 155.9L592.8 152.9L595.7 148.8L594.9 148.7L590.3 152.5L586.6 155.0Z" fill="#cdcdcd" opacity="0.22"/>
<path d="M204.3 160.1L251.5 160.1L261.0 161.8L269.4 164.3L272.8 166.3L272.8 171.3L278.7 169.8L282.9 168.5L285.9 166.8L291.3 166.8L293.8 164.3L295.5 162.8L297.5 163.3L297.5 166.0L298.8 167.1M174.5 125.5L174.5 141.1L180.4 143.3L184.6 142.1L188.0 147.5L193.0 149.2M214.7 187.8L218.7 187.5L224.9 189.8L229.6 189.8L232.5 189.0L235.8 192.5L238.4 193.7L240.9 192.3L244.2 196.2L248.1 198.9M256.5 218.0L257.7 215.5L259.4 212.5L261.5 212.5L261.5 215.7M261.4 218.9L263.2 219.0L264.1 220.1M261.5 215.7L263.2 216.0M267.4 223.8L270.8 223.9M272.0 228.5L272.1 226.3M264.1 220.1L268.6 218.0L271.5 217.2M290.4 223.1L289.6 230.6L293.8 230.6L298.0 232.3L297.5 239.0L298.8 240.4M310.6 228.1L308.4 232.5L309.8 234.8L310.9 240.0L313.5 239.7L315.6 239.0L317.3 239.2L319.8 238.5L324.0 238.7M315.6 232.3L314.0 235.7L315.6 239.0M320.7 232.8L319.8 238.5M298.8 240.4L294.6 240.7L294.0 244.1L293.8 249.5M278.7 239.9L282.0 241.7L284.6 242.6L287.9 245.4L293.8 249.5M276.5 248.1L279.5 250.8L284.6 242.6M293.8 249.5L288.8 254.7L287.9 257.5L289.6 259.2L293.0 260.9L295.5 260.9M295.5 260.9L294.6 267.6L295.5 270.1L293.8 272.6M293.1 273.1L295.5 274.3L296.3 279.4L298.5 280.7L296.3 282.7L296.3 287.8L293.8 290.3L293.8 297.8L292.1 302.9L291.3 309.6L290.4 316.3L290.9 319.7L288.8 324.7L287.9 327.2L290.4 329.4L295.5 330.1L296.2 330.8L296.2 334.8M295.5 260.9L301.4 259.2L302.2 261.7L307.2 264.2L309.8 265.4L310.6 269.3L313.5 269.8L314.0 275.7M314.0 275.7L310.6 276.0L306.7 279.4L301.4 279.4L298.5 280.7M314.0 275.7L314.0 279.4L317.7 279.9L319.8 282.7L319.8 285.4M306.7 279.4L310.6 282.7L314.0 285.2L318.2 288.3L319.8 285.4M319.8 285.4L321.0 287.8L317.7 289.4L314.6 293.1L317.3 294.5L321.5 299.0M314.6 293.1L313.3 298.7M408.4 169.5L411.4 170.7L416.8 171.2M396.4 171.8L399.6 172.0L400.5 173.0L399.6 176.0L398.8 179.9M415.6 156.6L418.1 158.4L421.1 159.2L422.3 159.7L425.2 160.1L424.2 162.4L422.8 162.9L421.5 164.8L423.2 165.5L423.2 168.5L424.0 168.8M424.2 162.4L427.4 162.4L429.0 162.9L431.9 162.4L433.2 162.6L434.6 160.6L432.4 159.2L431.6 157.9L435.9 156.7L435.3 153.7L435.4 151.8M421.5 164.8L425.7 165.1L429.0 164.3L432.4 163.9L434.4 164.3L434.4 165.6M418.1 155.9L421.5 155.4L423.2 154.2L423.5 152.9M421.1 159.2L422.2 157.9L421.5 156.7M426.0 150.2L428.0 150.3M435.9 156.7L440.0 157.9L443.0 159.2L449.2 159.9L451.7 157.6L451.0 155.0L450.9 151.8L449.7 151.0L444.2 151.0M440.0 161.8L443.0 159.2M439.8 160.8L440.3 161.8L443.0 162.1L448.4 160.9L449.9 161.8M434.4 164.3L438.3 163.9L439.1 162.3L440.3 161.8M438.3 163.9L440.8 165.3L443.3 165.3L445.8 164.8L449.9 161.8M434.4 166.0L437.4 166.0L439.1 164.3M437.8 166.5L443.3 166.8L444.2 170.2M439.1 169.3L441.6 170.2L442.5 171.2M443.3 166.8L445.3 167.6L449.2 167.6L449.2 171.3L449.9 173.0M444.0 171.8L445.8 171.3L446.7 173.5L445.8 175.2M449.9 173.0L455.1 172.3L455.9 173.0L455.1 173.9M449.2 167.6L459.3 169.0M449.9 161.8L452.6 161.9L456.1 161.3L458.8 162.1L460.1 164.3L458.9 166.0L461.3 166.3M449.2 167.6L447.2 164.8L449.9 161.8M451.7 157.6L458.4 155.9L462.6 156.2L464.8 154.9L468.5 154.5L470.2 156.4L475.7 158.4L478.6 160.9L476.1 162.6L475.2 163.4M450.9 151.8L454.7 151.3L456.8 148.7L458.8 148.2L463.1 149.0L464.8 154.9M446.7 148.3L455.9 148.8M447.5 145.8L457.6 145.8L458.4 142.4M449.7 151.0L446.7 149.5M431.6 145.8L432.4 143.3L431.6 139.9L432.9 138.2L431.6 135.7L435.8 132.4L438.3 128.2L445.0 126.5L445.8 126.5L450.9 128.2L451.7 131.9M445.8 126.5L453.4 127.2L460.1 126.5L458.8 123.1M459.3 126.5L461.8 129.0L460.1 131.5L461.8 135.7L464.3 136.9L458.4 140.8M455.1 173.9L455.6 172.3L458.4 171.8M471.7 182.1L473.6 180.7L478.6 180.2L482.5 180.1L486.7 179.9L485.8 176.0L484.5 173.4L482.8 172.7M486.7 179.9L488.7 182.6L487.8 185.3L491.2 187.0L492.0 191.2M471.2 186.5L472.9 184.9L472.7 187.8L476.9 187.8L480.3 184.4L482.5 180.1M471.0 187.8L470.2 192.8M476.9 187.8L473.6 189.5L475.2 192.0L471.9 193.2L470.2 192.8M476.9 187.8L481.1 189.5L486.5 193.3L489.5 193.5L492.0 192.8M472.7 187.8L476.9 188.1M498.3 201.6L499.6 204.6L504.6 205.4L504.6 208.8L498.8 210.5L499.6 214.7M483.6 214.3L486.2 213.0L490.4 213.8L492.9 211.8L498.8 210.5M506.0 200.6L505.5 201.7L504.5 203.6L504.6 205.4M484.5 173.4L488.7 172.7L489.5 173.5L487.0 175.5L489.5 177.0L492.0 177.7L493.4 177.9M486.7 175.7L491.9 173.0L494.6 174.9M478.6 169.5L482.0 169.7L485.3 170.7L489.5 172.2L491.2 172.7L492.9 172.2M514.2 180.9L513.0 185.3L513.9 189.5L515.2 190.3L517.2 192.8L513.9 192.8L514.9 200.1M514.2 180.9L518.9 179.9L521.6 179.7L525.3 180.1L529.0 179.4L531.5 180.2L536.6 179.4M536.6 179.4L532.4 181.9L531.5 183.6L529.8 185.4L528.2 187.0L527.8 189.5L523.1 192.3L518.9 192.8L515.6 193.0M536.6 179.4L538.2 181.1L541.6 182.8L544.1 184.8L543.6 187.8L544.1 190.3L546.6 191.2L547.5 191.7L550.8 193.2L554.2 194.5L559.2 195.5L560.9 195.4L566.0 195.7L569.3 194.0L572.7 194.5L574.9 194.9M536.6 179.4L536.9 184.4L535.7 187.0L537.4 187.8L536.6 190.3L535.4 191.7L532.4 195.4L529.8 195.4L528.2 197.9L529.8 199.6L530.7 201.4L527.0 202.1L526.0 202.6M546.6 191.2L547.5 194.5L552.5 196.2L559.2 197.9L559.6 195.5M559.6 197.9L560.9 199.9L560.1 202.1L560.9 205.4M566.0 200.4L566.8 204.3L566.3 207.1M566.0 195.7L566.0 197.4L562.3 197.4M574.9 194.9L576.9 197.0L576.0 202.1L579.4 206.3L581.1 206.3L582.8 204.8L585.3 204.3L588.6 203.8L590.7 204.1L592.8 206.3M574.9 194.9L572.7 197.0L570.7 199.6L569.3 202.2L568.1 205.4M579.4 206.3L581.1 209.6L580.2 213.0L576.9 214.7L577.4 218.0L578.6 222.2M581.1 206.3L584.1 207.1L587.8 211.3L590.3 213.3L592.0 217.2L592.0 221.7L589.5 223.1L587.0 224.8M579.4 211.7L581.1 213.0L583.6 212.2L587.3 215.5L588.6 218.4L585.3 218.4L583.6 220.9M579.9 231.6L581.9 232.7L582.8 232.0M489.5 172.2L491.2 169.3L491.2 165.6M495.4 164.3L498.8 166.8L503.8 166.8L505.5 166.8L505.5 172.7L508.8 171.0L512.2 171.8L513.9 173.2L515.6 175.2L518.9 176.9L522.3 179.1L525.3 180.1M505.5 172.7L503.3 173.5M500.4 174.4L505.5 178.6L510.5 179.4L514.2 180.9M513.9 173.2L522.3 170.2L525.6 173.5L528.2 171.0L530.7 171.8L530.7 174.7L534.0 175.2L536.6 179.4M528.2 171.0L531.5 170.5L535.7 169.7L545.8 170.5L546.1 166.8L550.0 166.0L550.8 163.4L555.0 163.4L558.1 160.1M530.7 174.7L534.9 176.0L537.4 174.4L539.9 174.7L545.8 170.5M558.1 160.1L562.6 157.1L566.0 157.2L574.4 158.4L576.9 155.0L582.8 155.9L587.8 157.6L592.8 159.4L597.9 159.2L603.8 157.9L607.1 158.7L609.6 159.2L613.0 154.2L615.5 152.9L621.4 153.4L625.6 158.4L630.6 160.4L637.4 161.3L634.8 166.8L631.5 168.5L631.5 170.8L630.8 171.2M558.1 160.1L562.6 161.8L564.3 165.1L567.6 166.8L572.7 170.2L579.4 170.8L587.8 172.5L592.8 171.2L597.9 169.3L599.6 166.8L603.8 166.1L607.1 164.3L609.6 163.8L612.2 162.4L608.8 161.8L607.1 158.7M491.2 165.6L492.0 162.6L490.4 160.1L489.5 160.9L493.2 157.6L497.1 155.9L503.8 157.2L507.2 156.7L512.2 157.1L513.9 155.0L513.9 153.4L520.6 150.8L527.3 149.5L534.0 151.7L539.1 151.7L541.6 153.4L545.8 157.1L550.8 156.7L554.2 158.9L558.1 160.1M620.1 175.4L623.1 173.5L626.4 171.8L630.8 171.2M621.9 179.1L624.8 178.1L627.1 177.7M408.5 183.6L409.4 188.5L405.2 190.5L396.8 194.2L396.8 195.9M396.8 195.9L389.2 195.9M396.8 195.9L396.8 198.7L391.2 198.7L391.2 202.9L389.6 206.6L382.8 206.6M425.8 180.4L425.2 184.3L427.4 191.7L428.2 199.9L431.4 202.9M431.4 202.9L421.1 209.8L418.5 210.3L416.8 210.3L413.2 207.5L403.3 200.4L396.8 196.5M403.3 200.4L400.5 200.6L402.2 214.7L402.2 216.4L392.1 216.4L390.9 217.7M390.9 217.7L383.7 215.4M418.5 210.3L418.5 214.8L412.2 217.4L408.0 217.2L402.2 224.9L398.0 225.3L392.2 221.6L390.9 217.7M453.4 189.3L453.4 208.8L451.7 209.6L451.7 208.8L438.1 203.1L435.3 204.4L431.4 202.9M453.4 205.4L473.4 205.4M438.1 203.1L437.4 208.0L434.2 219.4L434.9 220.4M412.2 217.4L413.1 220.1L417.4 222.7L421.5 219.6L426.5 220.9L432.4 220.4L434.9 220.4M451.7 209.6L448.4 218.9L449.2 224.1L450.9 227.3L450.0 229.8L453.4 230.6L457.6 234.0M434.9 220.4L436.6 225.6L435.8 227.3L437.4 229.8L442.5 227.3L446.7 226.4L449.2 224.1M425.7 234.7L427.9 231.5L431.6 230.6L433.2 226.4L435.8 223.1L434.9 220.4M415.9 231.8L415.9 227.3L417.4 222.7M413.4 232.2L412.2 224.4L411.4 223.9L406.7 223.9L406.4 225.9L407.2 228.6L406.0 233.8M402.2 224.9L398.0 228.1L398.8 235.0M398.0 228.1L395.4 230.0L392.1 230.8M398.0 225.3L393.8 226.8L390.4 228.5M392.2 221.6L388.4 221.1L383.3 221.6M388.4 221.1L386.2 223.9M386.2 219.6L383.2 219.7M427.4 191.7L427.4 191.5M473.4 205.4L474.1 210.5L476.1 212.2M472.7 218.4L468.5 225.6L468.5 228.1L467.2 229.3L470.2 234.0M467.2 229.3L461.8 236.5L457.6 234.0M472.7 218.4L476.1 212.2M483.6 223.9L482.8 223.1M483.6 223.9L485.3 227.3L492.0 229.0L487.0 234.0L480.3 235.7M470.2 234.0L480.3 235.7L480.3 245.3M470.2 234.0L468.5 240.7L468.5 244.1L461.8 244.1M468.5 244.1L474.4 248.3L477.4 250.3M461.8 244.1L460.1 250.0L462.6 255.8L466.8 258.4L469.4 261.7L479.4 260.0M432.4 238.7L438.3 239.0L442.5 236.5L450.0 234.8L457.6 234.0L463.5 236.2L461.8 244.1M427.4 238.7L430.4 238.7L430.4 240.7L427.9 240.7M430.4 238.7L435.8 238.7L434.9 246.6L433.2 250.0L431.6 250.8M431.6 250.8L438.3 252.1L446.7 254.2L448.4 260.9L451.7 260.9L459.3 260.9L459.3 264.2L461.8 265.1M462.6 255.8L459.3 260.9M448.4 260.9L448.4 264.2L451.7 271.8L454.2 272.3L460.1 269.3L466.8 269.8M431.2 271.5L445.0 271.6L451.7 271.8M446.7 272.6L446.7 279.4L445.0 279.4L445.0 283.9M439.1 290.4L445.0 290.1L445.0 283.9L455.1 280.2L461.0 279.4L464.3 279.9L465.2 286.9M466.8 269.8L466.5 270.1L466.8 279.4L464.3 279.9M466.8 265.9L469.4 265.9L471.0 271.0L466.8 269.8M454.2 272.3L456.8 276.8L461.0 279.4M460.1 292.8L456.8 292.8L458.4 290.6L460.1 291.1M463.1 287.4L465.2 287.4L464.3 285.7M648.3 246.8L648.3 257.7M290.4 211.3L290.9 209.3M601.2 237.0L605.4 234.8L608.0 235.2L610.5 234.8M603.9 234.8L595.5 239.0" fill="none" stroke="#000" stroke-width="0.8" stroke-linejoin="round"/>
<g fill="none" stroke="#000" stroke-width="0.7" stroke-linejoin="round"><path id="cl" d="M129.2 132.2L132.5 126.6L139.2 124.3L148.5 122.6L156.0 123.5L167.8 124.6L174.5 125.5L184.6 126.0L196.4 124.5L208.1 125.6L218.2 127.7L230.0 127.7L246.8 128.5L253.5 127.3L260.2 126.8L268.6 125.6L273.6 128.2L273.6 130.7L266.9 132.4L266.9 134.9L260.2 136.6L253.5 141.6L253.5 143.8L256.8 146.6L263.6 148.3L273.6 150.0L273.6 154.2L277.0 156.2L278.7 151.7L282.0 148.3L280.4 145.0L281.2 140.8L280.4 137.4L287.1 137.7L293.8 139.9L294.6 143.3L302.2 141.1L303.0 141.3L308.1 147.5L315.6 152.5L317.8 155.0L310.6 158.1L299.7 158.1L292.1 163.8L302.2 160.2L302.5 163.4L308.9 166.0L310.6 165.1L304.7 167.6L300.5 168.8L298.8 167.3L293.5 169.2L292.8 172.5L290.4 173.5L287.1 174.4L287.1 176.0L284.6 177.7L283.7 180.2L284.6 183.1L281.2 184.4L278.7 186.5L275.3 189.0L274.6 191.2L276.2 195.4L276.8 198.7L275.5 200.2L274.0 198.4L272.3 195.4L271.5 192.8L269.4 192.0L266.1 191.3L261.9 191.5L261.4 193.7L258.5 193.2L253.5 192.7L248.4 195.4L247.6 199.1L247.3 203.8L247.6 206.3L249.6 210.0L252.6 211.8L256.8 211.2L259.4 209.6L259.7 207.1L264.9 206.3L264.4 210.5L263.2 213.0L263.1 215.5L268.6 215.5L271.5 217.2L271.1 222.2L270.8 223.9L273.6 227.3L277.8 226.4L281.2 228.1L281.5 229.1L280.4 230.1L277.0 230.1L272.8 228.6L267.8 225.6L267.3 223.6L264.4 220.6L258.5 219.0L256.0 218.0L252.6 215.4L249.3 216.0L245.9 215.0L241.7 213.3L236.7 210.8L234.2 208.8L234.5 206.3L232.5 203.4L229.1 199.6L227.4 197.2L225.1 195.5L222.4 192.5L218.7 189.1L219.0 191.7L221.2 194.0L222.9 196.7L224.6 199.1L226.1 201.7L227.6 203.6L226.1 202.9L223.1 200.7L222.7 197.9L219.5 195.7L219.9 194.4L216.9 191.3L214.7 187.8L212.3 185.3L208.8 184.3L206.6 180.9L205.6 178.9L203.4 175.5L202.7 172.2L203.1 168.5L203.1 164.6L201.9 161.1L204.8 160.9L205.6 159.7L201.4 157.6L197.2 156.7L192.2 150.8L189.6 148.3L184.6 145.0L180.4 143.6L176.2 141.9L169.5 141.6L165.3 139.9L162.8 141.6L159.4 142.4L156.0 141.9L152.7 144.1L148.5 147.0L144.3 148.8L139.2 150.0L134.5 151.0L139.2 148.7L146.0 145.8L147.6 143.8L142.6 143.6L139.2 141.9L135.0 140.8L133.4 138.2L135.0 136.2L140.9 134.0L134.2 134.0ZM288.8 110.5L300.5 107.2L310.6 105.0L327.4 103.8L344.2 102.3L361.0 102.0L374.4 103.8L377.8 105.5L391.2 105.5L382.8 108.0L379.5 111.4L380.3 113.9L377.8 116.4L375.3 118.9L374.4 122.3L370.2 125.6L367.7 127.3L357.6 128.2L352.6 131.5L347.6 132.4L344.2 133.2L340.8 137.4L338.3 141.6L335.8 141.3L330.8 139.9L327.4 137.4L324.9 134.0L322.4 130.7L321.5 127.3L325.7 126.0L319.8 124.0L323.2 122.6L319.0 120.6L315.6 117.2L310.6 114.7L300.5 114.4L293.8 113.0L288.8 110.5ZM268.6 118.9L280.4 120.1L290.4 123.1L297.2 124.8L299.7 128.2L305.6 130.7L307.2 133.2L302.2 135.7L302.2 138.2L297.2 137.4L290.4 135.2L287.1 134.0L281.2 134.0L280.4 131.5L287.9 129.3L288.8 128.2L283.7 126.8L277.0 124.8L263.6 124.0L261.0 122.3ZM211.5 122.3L221.6 119.8L233.3 119.8L240.9 124.8L235.0 126.8L220.7 127.3L213.2 126.0ZM277.0 114.2L260.2 113.9L256.8 108.0L268.6 105.0L293.8 103.1L307.2 104.1L297.2 108.0L290.4 110.0L283.7 111.4ZM277.0 115.6L261.0 113.9L250.1 114.7L256.8 117.1L277.0 117.2ZM201.4 121.4L203.1 117.6L214.8 117.6L217.4 119.8L209.8 122.4ZM236.7 115.6L226.6 113.4L213.2 114.4L214.8 117.1L233.3 117.1ZM248.4 121.4L248.4 118.1L241.7 118.9L241.7 121.4ZM260.2 120.6L260.2 118.2L251.0 118.1L253.5 121.1ZM268.6 108.8L258.5 106.0L250.1 108.0L256.8 110.9ZM276.2 135.7L270.3 131.5L265.2 133.2L266.9 135.2L272.0 137.9ZM311.6 162.4L317.3 155.7L318.2 158.7L322.4 160.1L322.9 162.6L321.5 164.1L318.2 163.4ZM268.6 205.6L273.6 203.4L277.0 203.6L281.2 205.8L284.2 207.0L286.9 208.5L284.6 209.0L280.9 209.0L281.7 207.8L279.5 206.1L274.5 205.3L272.8 206.1L269.4 205.8ZM286.4 211.5L289.1 209.0L293.8 209.3L296.7 211.2L293.8 211.8L291.4 212.8L287.9 211.8ZM279.9 211.5L283.4 211.8L282.4 212.5L280.4 212.0ZM298.5 211.3L301.2 211.5L300.9 212.2L298.5 212.2ZM281.5 228.0L284.6 224.8L286.2 223.9L289.9 222.4L291.6 221.6L291.1 223.9L293.8 223.1L296.3 223.9L300.5 224.6L305.6 224.4L308.1 224.8L308.9 228.0L311.4 229.0L314.8 232.3L319.0 232.3L324.0 234.0L325.7 235.7L327.4 239.4L327.4 242.4L329.9 244.1L336.6 246.6L341.7 247.4L346.7 248.6L352.1 251.3L352.9 255.0L352.1 258.4L349.2 260.9L346.2 264.2L345.9 269.3L344.7 275.2L342.5 279.4L339.2 281.0L335.8 282.4L329.9 286.1L329.6 290.3L326.6 294.5L323.2 298.7L321.5 300.4L319.0 301.2L315.6 300.4L313.1 300.4L315.6 302.9L314.8 306.2L307.2 307.9L306.4 311.3L302.2 311.3L303.0 313.8L302.2 318.0L298.0 320.5L300.5 323.0L296.3 327.2L296.3 330.3L296.3 333.1L301.9 334.3L298.8 334.8L296.3 335.6L292.1 334.8L287.1 331.4L284.6 326.4L286.2 321.4L284.6 319.7L287.9 314.6L287.1 311.3L287.9 306.2L291.1 297.8L291.3 292.8L293.0 284.4L293.5 276.0L293.1 273.1L290.4 271.0L284.6 267.6L282.9 264.2L280.4 260.0L277.8 255.0L274.8 250.8L276.2 248.3L276.8 246.6L275.3 244.9L277.0 241.1L279.2 239.4L281.2 236.5L281.5 231.8L280.5 230.3ZM308.1 328.6L314.3 328.9L313.1 330.1L309.8 330.1ZM109.0 133.2L117.4 134.0L120.8 134.4L121.6 132.4L126.3 131.4L123.3 130.0L117.4 128.7L112.4 127.3L109.0 126.6ZM631.5 184.8L634.0 182.9L639.0 182.4L641.2 179.7L644.1 179.4L646.6 176.0L646.6 173.9L649.1 172.8L649.8 175.2L649.1 178.1L648.3 180.2L647.9 182.3L646.3 183.6L644.6 184.3L641.6 184.3L639.5 186.1L638.2 184.8L634.8 184.8L631.5 185.4ZM629.3 186.3L631.3 185.4L633.0 187.0L631.8 189.6L630.1 190.0L630.0 187.6ZM634.0 186.5L636.9 184.9L637.7 185.6L634.8 187.3ZM646.6 172.7L648.3 172.2L652.1 171.8L655.8 169.7L655.3 168.0L650.0 166.0L649.3 169.8L647.3 169.7L646.6 171.5ZM650.0 165.1L652.5 160.1L652.0 156.7L651.1 151.2L650.1 155.0L649.8 160.9ZM613.2 203.8L614.7 200.1L616.4 200.4L614.7 205.4L614.2 205.6ZM593.8 210.1L597.0 208.6L597.9 209.5L595.4 211.8L593.8 211.3ZM545.5 225.9L548.8 229.8L548.5 231.8L546.0 232.2L545.5 229.0ZM613.0 211.3L616.7 211.3L616.9 213.8L615.7 215.9L619.7 220.6L618.9 221.4L614.7 218.9L613.0 215.5ZM616.4 230.6L622.2 225.9L623.9 230.6L622.2 233.0L619.7 230.6ZM616.4 224.8L618.9 223.1L622.2 222.2L621.4 225.6L618.0 226.8ZM608.3 228.3L612.2 223.2L612.5 224.8L609.3 228.3ZM594.5 239.9L595.5 239.0L597.9 239.5L601.2 237.0L605.4 233.7L608.0 230.6L610.8 234.0L609.6 234.8L609.1 237.4L611.0 240.7L608.8 242.4L607.6 244.9L607.1 248.3L603.8 248.6L601.2 247.4L597.9 247.4L596.2 245.4L595.4 242.4ZM571.5 233.0L575.2 233.7L579.4 238.2L585.8 244.1L589.5 247.4L589.1 252.3L587.0 252.1L582.8 248.3L580.2 244.9L577.4 239.9L573.5 236.5ZM588.1 253.8L590.3 252.5L593.3 253.0L597.0 254.0L600.4 253.8L603.6 255.5L603.8 257.0L597.9 256.2L592.8 255.5L589.5 254.8ZM604.6 256.2L611.3 256.2L618.0 256.2L618.9 257.0L611.3 257.5L604.6 257.4ZM619.7 259.7L625.3 256.5L621.4 257.5ZM611.3 258.4L614.3 258.9L613.0 259.7ZM612.2 251.8L611.8 248.3L611.0 246.9L612.7 241.6L613.8 240.7L621.2 239.7L621.7 240.0L618.0 241.6L614.7 241.6L615.5 244.1L618.7 243.7L615.2 245.6L617.7 250.0L615.5 250.3L613.8 247.1L613.7 251.6ZM625.6 239.0L627.3 239.9L626.4 242.4L627.3 243.7L625.6 243.2ZM626.4 247.4L631.1 247.8L629.8 248.6L626.4 248.4ZM631.5 244.6L634.0 243.1L636.9 244.1L639.0 247.9L643.2 245.3L648.3 246.8L656.3 250.6L659.2 252.8L660.0 255.8L663.4 259.7L658.4 259.2L656.7 255.8L653.3 255.2L651.6 257.5L648.3 257.7L644.1 256.3L642.9 250.8L638.2 249.6L634.8 249.1L633.2 247.1ZM660.9 251.6L666.8 249.5L665.9 251.6L663.4 252.8ZM602.1 279.4L603.3 279.7L607.6 277.0L611.3 276.0L615.5 273.5L616.7 271.0L620.6 269.3L623.1 265.9L626.9 267.4L629.8 264.2L631.5 262.9L634.2 261.7L637.7 262.6L641.2 263.1L639.5 267.6L645.8 271.8L649.1 267.6L649.1 263.4L650.8 260.4L652.5 265.9L655.5 267.6L656.7 273.5L661.4 276.8L664.7 280.2L668.6 285.2L669.4 290.3L668.4 295.3L665.6 299.2L663.4 305.4L660.0 305.9L657.2 307.9L654.2 306.6L648.3 306.2L645.9 304.6L644.1 302.0L642.9 297.8L639.9 301.2L639.0 300.7L636.5 297.3L631.5 295.3L624.8 296.7L619.7 299.2L613.0 299.5L609.3 301.4L604.6 300.0L605.8 296.2L604.4 291.1L602.1 286.9ZM654.3 310.8L660.5 311.1L660.0 314.6L658.0 315.6L655.3 313.3ZM704.1 301.5L707.1 304.2L709.4 306.7L713.8 307.1L711.3 309.6L709.9 311.8L707.9 313.6L707.2 313.0L708.3 310.9L706.2 310.1L707.1 307.6L705.9 305.1ZM704.1 311.8L706.7 313.8L705.4 316.0L704.2 317.3L701.5 318.5L700.4 321.0L697.8 322.0L693.6 321.0L696.2 317.7L700.4 315.6L702.9 312.6ZM494.2 262.6L496.2 268.4L494.6 271.8L492.0 279.4L490.5 284.2L487.3 285.4L485.3 283.6L484.1 279.4L486.0 276.0L485.3 271.8L486.2 269.6L489.5 268.8L492.0 265.1ZM401.8 158.4L406.4 157.4L413.6 156.6L414.3 153.9L411.9 152.5L410.6 150.8L408.7 149.0L407.2 148.3L408.4 145.6L406.0 144.0L403.0 144.0L401.0 147.1L402.0 149.5L403.3 150.3L406.0 150.2L405.9 151.7L406.4 152.9L403.7 152.9L404.3 154.5L402.7 155.5L405.5 156.0ZM401.3 154.7L401.3 152.5L402.2 150.7L399.6 149.5L397.1 150.8L394.6 151.7L395.4 154.2L394.1 155.4L398.0 155.7ZM373.6 134.9L371.1 132.4L374.4 130.8L381.2 131.2L386.2 130.7L388.7 132.7L387.0 134.2L381.2 135.9L373.6 135.2ZM429.9 110.5L438.3 108.0L448.4 107.3L456.8 108.0L448.4 111.4L440.0 113.7L434.9 112.2ZM498.8 122.3L503.8 119.8L507.2 115.6L515.6 113.9L526.5 113.0L522.3 115.1L512.2 117.2L507.2 120.6L505.5 123.8L500.4 123.5ZM571.0 109.7L579.4 106.3L587.8 108.8L579.4 111.4ZM641.6 116.4L650.0 114.7L660.0 115.9L651.6 119.4ZM711.3 123.1L713.8 122.3L713.8 123.3ZM109.0 123.3L109.0 122.3L113.2 122.8ZM425.8 172.8L427.4 170.2L427.4 172.8ZM425.5 176.9L425.2 173.7L427.9 173.5L427.5 176.7ZM432.2 178.9L437.6 178.1L436.8 180.7ZM450.9 183.1L455.6 183.3L452.6 183.8ZM465.7 184.1L469.5 182.4L468.4 183.8ZM401.5 182.3L408.0 183.4L413.1 181.1L416.4 180.6L422.3 180.2L427.9 179.7L429.9 180.4L429.0 181.4L430.0 183.3L428.2 184.8L430.7 187.0L433.6 187.1L437.4 189.0L443.3 191.5L445.0 190.3L445.3 188.3L448.4 187.1L453.4 189.3L460.1 190.5L463.5 189.3L465.7 189.8L468.9 189.8L470.0 192.8L469.0 195.7L467.7 194.5L466.2 192.2L466.3 193.7L467.8 196.5L468.5 197.9L471.0 202.1L473.2 205.4L474.1 210.5L476.1 212.2L477.8 216.4L481.1 219.7L484.0 221.7L486.2 224.9L490.4 223.8L494.6 223.4L497.4 222.6L497.1 224.9L495.4 229.0L492.0 234.8L488.7 239.0L484.5 243.2L481.1 245.8L478.6 248.3L477.4 250.8L477.8 254.2L477.8 259.2L479.4 260.9L479.4 266.8L477.8 270.1L473.6 272.3L470.2 276.0L471.0 279.4L471.0 282.7L466.8 285.2L466.5 289.4L464.3 292.0L461.8 295.0L458.4 297.8L454.6 299.5L449.2 299.5L445.0 300.9L442.5 300.0L442.1 297.8L441.3 295.3L439.1 290.4L436.9 287.8L435.8 281.0L433.2 276.0L431.2 271.5L432.1 265.9L434.4 260.9L433.6 257.5L432.1 252.5L431.6 250.8L429.9 248.3L427.4 244.1L427.4 240.7L427.9 237.4L426.5 235.7L425.7 234.8L421.5 235.2L419.8 233.2L418.6 231.6L414.8 231.8L413.1 232.5L408.0 234.3L404.7 233.7L398.8 235.0L396.3 234.0L392.1 230.8L389.6 229.0L389.2 226.4L386.2 223.9L383.3 221.6L382.0 217.7L383.7 214.7L384.0 210.5L382.7 207.5L384.5 202.9L387.0 198.7L389.6 195.9L392.1 195.0L394.9 192.8L394.9 189.5L397.1 186.5L400.0 185.3ZM395.4 170.2L396.4 171.8L396.8 175.2L395.4 177.4L396.6 180.2L399.0 179.9L400.8 181.1L402.0 181.9L403.8 180.7L408.0 180.7L410.2 179.2L411.7 177.2L410.9 176.0L412.9 173.5L416.8 172.0L416.6 170.0L419.3 169.5L424.0 168.8L426.2 167.8L428.5 168.6L429.0 170.3L432.1 172.3L434.9 173.9L437.8 175.2L438.6 177.0L437.8 178.6L439.3 177.9L440.1 176.9L439.1 175.5L440.0 174.4L442.5 175.0L441.6 174.2L438.3 172.8L435.8 171.5L434.2 169.3L432.1 167.6L432.2 166.1L434.4 165.6L434.8 167.0L436.9 168.1L439.0 169.3L442.5 171.0L444.0 172.2L444.0 174.7L445.3 175.9L446.7 178.1L447.9 180.6L449.2 181.2L450.4 181.2L449.7 179.2L451.7 178.6L449.7 174.4L451.7 173.9L455.1 173.9L455.4 174.7L455.4 176.0L456.8 178.6L457.3 180.2L458.9 180.7L462.6 181.4L466.0 181.8L469.4 180.6L471.9 181.6L471.7 183.3L471.0 186.1L470.4 187.0L469.4 189.5L468.9 189.8L470.0 192.8L472.7 196.2L476.1 202.1L477.3 206.3L479.9 210.5L482.8 214.7L484.1 221.1L487.0 220.9L492.9 218.9L498.8 215.9L504.6 213.0L507.2 210.8L509.7 208.0L511.9 204.6L509.7 202.8L506.2 200.6L506.0 198.2L503.8 200.4L500.4 201.7L498.1 201.6L497.4 198.6L496.7 200.4L496.2 198.2L495.4 197.5L492.9 195.0L492.0 192.2L493.4 191.7L495.7 192.0L497.9 195.5L502.1 197.7L506.0 196.9L507.7 199.2L514.9 200.1L523.1 199.7L524.8 202.1L527.0 203.8L529.3 204.4L527.3 204.8L529.0 207.1L532.7 207.0L533.7 209.6L533.7 210.5L534.9 215.5L536.6 218.9L537.9 222.6L539.6 226.4L541.6 228.8L542.9 227.3L545.0 225.1L545.5 222.2L546.3 220.6L546.1 216.4L549.7 214.5L553.4 210.8L556.7 208.5L557.6 206.3L560.1 205.8L562.6 205.4L565.6 204.8L566.5 207.6L569.3 211.3L569.8 215.5L571.5 215.9L575.2 214.3L575.7 217.2L576.9 222.2L576.5 226.4L576.5 229.0L578.7 231.5L579.9 233.2L581.6 237.5L585.3 240.2L586.5 240.0L585.3 235.7L583.6 232.3L581.1 230.8L579.9 228.1L578.1 225.6L578.6 221.4L579.4 219.9L581.1 221.1L583.6 222.2L584.4 223.9L587.5 228.0L590.3 226.4L592.0 224.8L594.9 223.1L594.9 219.7L594.4 216.4L591.2 213.8L589.0 210.5L590.7 207.6L592.8 206.3L595.4 206.3L596.5 208.3L597.0 206.3L602.1 205.1L607.1 203.9L610.5 201.2L613.0 197.9L615.5 194.5L616.4 192.0L616.0 190.3L614.7 187.8L613.5 184.8L611.7 183.6L613.7 181.8L617.2 180.2L615.5 179.2L611.8 179.9L609.6 178.2L609.0 176.9L612.2 175.5L615.5 173.7L615.0 177.2L616.4 175.2L620.1 175.4L621.9 179.1L623.9 179.4L623.8 184.4L628.5 183.3L629.0 181.1L627.1 177.7L625.6 175.5L629.3 173.7L631.0 171.3L633.2 169.8L639.0 168.6L644.1 163.6L647.1 161.3L647.4 156.7L649.0 154.7L647.4 152.7L642.4 152.0L638.5 150.5L642.4 148.3L647.4 145.3L651.6 142.8L660.0 142.8L666.8 143.3L671.8 142.8L674.7 139.1L680.7 138.4L681.0 139.9L676.8 145.0L674.3 148.3L674.5 156.9L678.0 153.4L680.2 150.8L683.6 148.3L685.6 145.3L684.4 144.1L686.9 141.9L690.3 141.1L697.5 141.6L702.0 139.1L709.6 137.4L712.1 137.7L713.8 133.2L713.8 126.5L705.4 125.1L697.0 124.6L690.3 125.6L681.9 125.5L671.8 123.1L663.4 122.3L655.0 120.6L646.6 120.6L638.2 122.1L629.8 123.1L626.4 120.1L621.4 118.9L613.0 119.8L602.1 118.9L596.2 118.1L601.2 114.7L586.1 111.9L576.0 114.4L571.0 114.7L559.2 116.1L555.9 118.1L546.6 118.9L545.8 120.9L539.1 120.6L533.2 120.1L528.2 119.9L526.1 123.1L524.0 126.5L522.3 126.0L513.9 125.1L508.8 127.2L503.8 127.7L500.4 127.3L492.0 128.7L485.3 127.3L484.5 131.0L480.3 130.8L478.6 134.0L473.6 134.9L470.2 134.0L469.4 131.5L475.2 131.5L480.3 129.0L475.2 127.7L466.8 126.0L458.4 123.1L454.2 123.0L445.0 124.8L438.3 127.3L434.9 129.8L432.4 132.4L429.0 134.9L423.2 137.1L419.8 139.9L420.6 143.3L422.3 144.8L424.8 145.0L429.0 142.9L430.7 144.1L431.6 145.8L432.9 149.2L435.4 149.2L439.1 147.8L439.3 145.8L442.8 142.4L440.3 139.9L440.8 137.4L446.7 134.9L448.4 132.0L451.7 131.9L453.9 133.2L448.4 136.6L447.4 139.9L449.2 141.6L453.4 141.3L458.4 140.8L461.8 141.8L458.4 142.4L451.7 142.8L450.9 144.1L452.2 145.3L447.5 145.8L446.7 148.3L446.7 150.0L444.2 151.0L442.5 150.3L438.3 151.2L434.9 151.7L431.6 151.3L429.7 151.7L428.2 150.8L427.4 150.0L429.0 147.5L429.2 145.5L425.7 146.5L425.0 148.3L425.8 150.0L426.0 151.7L423.2 152.5L419.8 152.9L419.3 154.2L417.3 155.9L415.6 156.6L414.1 156.9L413.9 158.2L411.4 159.2L409.2 158.9L408.7 160.6L405.5 160.4L403.5 161.1L404.2 162.1L407.2 162.9L409.4 165.1L409.4 167.6L408.4 169.5L405.0 169.3L398.0 169.0L395.8 170.0ZM458.4 173.2L459.3 169.5L459.6 167.6L461.3 166.3L462.6 164.3L465.2 164.3L467.7 165.1L466.0 166.1L467.7 167.6L471.0 166.8L472.7 166.3L475.2 163.4L476.9 163.1L474.4 165.1L474.4 167.3L476.9 168.1L481.1 172.7L478.6 173.5L473.6 173.4L470.2 171.8L466.8 172.0L464.3 173.2L461.0 173.2ZM109.0 374.3L142.6 372.6L159.4 371.8L162.8 369.2L176.2 368.4L193.0 366.7L209.8 365.9L226.6 367.6L243.4 365.0L260.2 365.0L277.0 365.0L285.4 361.7L293.8 358.3L300.5 354.1L307.2 351.3L315.6 348.7L314.0 350.8L310.6 355.0L307.2 360.0L308.9 366.7L327.4 373.4L344.2 373.1L361.0 370.1L377.8 365.9L394.6 361.7L411.4 360.0L428.2 360.0L445.0 360.0L461.8 359.2L478.6 358.3L495.4 355.0L512.2 355.8L529.0 358.3L537.4 359.2L545.8 355.8L562.6 354.1L579.4 353.3L596.2 353.3L613.0 354.1L629.8 353.3L646.6 354.1L663.4 357.5L680.2 360.0L688.6 361.7L697.0 362.5L697.0 365.0L688.6 370.1L693.6 373.4L713.8 374.3M491.2 165.6L494.6 164.3L497.1 163.4L500.4 163.6L500.4 166.0L497.6 166.3L497.1 167.6L499.6 170.5L500.4 172.7L500.1 175.2L501.3 176.4L502.0 179.7L497.1 180.6L493.7 179.4L493.4 177.2L494.6 174.9L492.9 172.2L491.2 170.2L490.4 167.6ZM256.7 163.9L261.0 161.8L266.1 160.6L268.9 163.4L263.6 163.6ZM263.9 171.8L264.4 165.5L268.6 165.1L266.4 169.3L266.1 171.8ZM269.4 165.3L274.5 165.3L277.0 167.6L273.0 169.8L271.5 168.0ZM271.5 172.2L275.3 170.7L278.8 170.5L274.5 172.7ZM277.3 169.7L283.2 168.1L283.4 169.5ZM464.7 242.9L468.4 242.1L468.9 244.1L466.8 246.6L464.7 244.9ZM585.8 155.7L587.8 155.9L592.8 152.9L595.7 148.8L594.9 148.7L590.3 152.5L586.6 155.0Z"/>
<use href="#cl" x="-604.8"/><use href="#cl" x="604.8"/></g>
</g>
<rect x="100.5" y="97.5" width="620" height="299" fill="none" stroke="#000" stroke-width="1"/>
<rect x="100.5" y="468.5" width="620" height="31" fill="url(#jet)"/>
<path d="M161.40 499V493.3M223.66 499V493.3M285.93 499V493.3M348.19 499V493.3M410.46 499V493.3M472.72 499V493.3M534.98 499V493.3M597.25 499V493.3M659.51 499V493.3" stroke="#000" stroke-width="0.9" fill="none"/>
<rect x="100.5" y="468.5" width="620" height="31" fill="none" stroke="#000" stroke-width="1"/>
<g font-size="16.67">
<text x="160.90" y="518.8" text-anchor="middle" textLength="24.5" font-size="17.3" lengthAdjust="spacingAndGlyphs">0.4</text><text x="223.16" y="518.8" text-anchor="middle" textLength="24.5" font-size="17.3" lengthAdjust="spacingAndGlyphs">0.8</text><text x="285.43" y="518.8" text-anchor="middle" textLength="24.5" font-size="17.3" lengthAdjust="spacingAndGlyphs">1.2</text><text x="347.69" y="518.8" text-anchor="middle" textLength="24.5" font-size="17.3" lengthAdjust="spacingAndGlyphs">1.6</text><text x="409.96" y="518.8" text-anchor="middle" textLength="24.5" font-size="17.3" lengthAdjust="spacingAndGlyphs">2.0</text><text x="472.22" y="518.8" text-anchor="middle" textLength="24.5" font-size="17.3" lengthAdjust="spacingAndGlyphs">2.4</text><text x="534.48" y="518.8" text-anchor="middle" textLength="24.5" font-size="17.3" lengthAdjust="spacingAndGlyphs">2.8</text><text x="596.75" y="518.8" text-anchor="middle" textLength="24.5" font-size="17.3" lengthAdjust="spacingAndGlyphs">3.2</text><text x="659.01" y="518.8" text-anchor="middle" textLength="24.5" font-size="17.3" lengthAdjust="spacingAndGlyphs">3.6</text>
<text x="409.2" y="544" text-anchor="middle" font-size="17.3" textLength="42.5" lengthAdjust="spacingAndGlyphs">VTEC</text>
<text x="719.5" y="541" text-anchor="end" font-size="17.3" textLength="39.5" lengthAdjust="spacingAndGlyphs">1e17</text>
</g>
</svg>
</body></html>
